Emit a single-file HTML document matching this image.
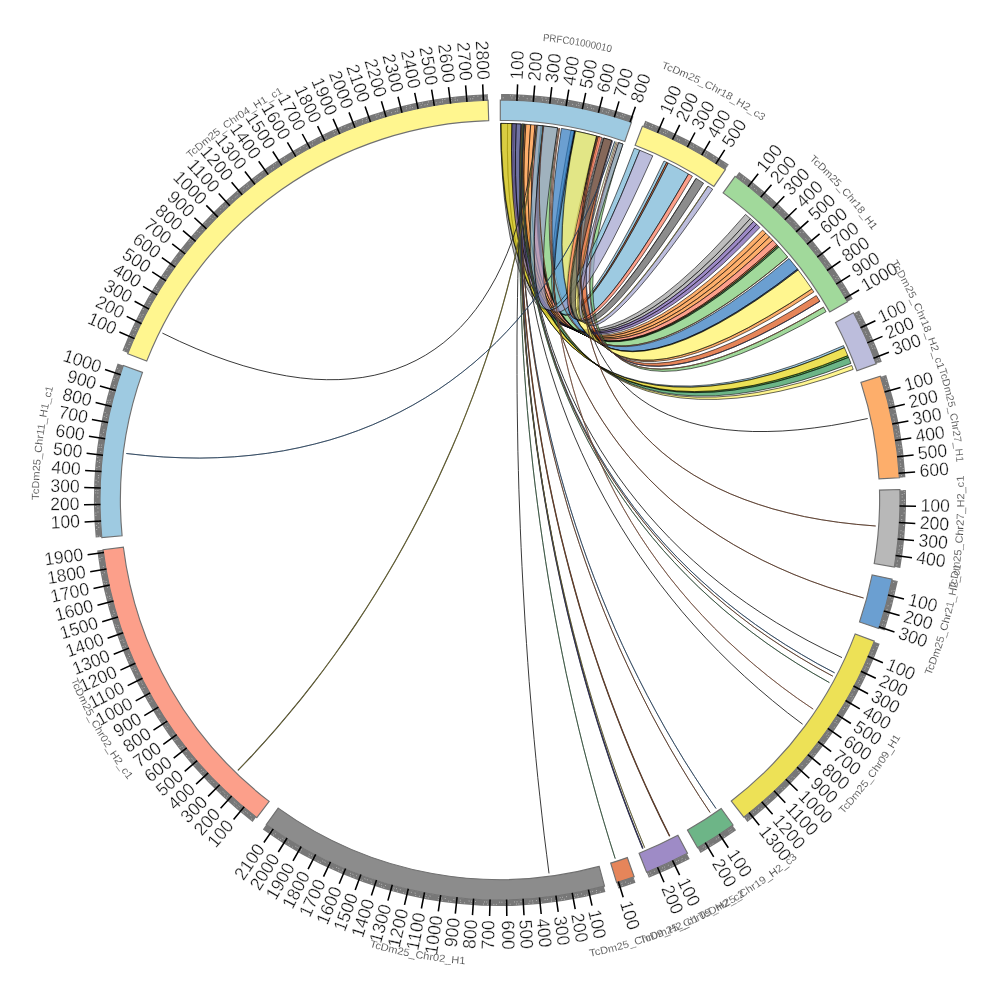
<!DOCTYPE html>
<html><head><meta charset="utf-8"><title>Circos</title><style>html,body{margin:0;padding:0;background:#fff}svg{display:block}</style></head><body>
<svg width="1000" height="1000" viewBox="0 0 1000 1000">
<rect width="1000" height="1000" fill="#fff"/>
<g stroke="#000" stroke-width="0.7" stroke-opacity="0.85" stroke-linejoin="round" fill-opacity="0.70">
<path d="M501 123.4A376.6 376.6 0 0 1 507.6 123.5L507.4 150.3 508.1 175 509.6 197.7 511.8 218.5 514.8 237.4 518.5 254.4 522.9 269.6 528 283.1 533.7 294.9 540.1 305 547.2 313.4 554.9 320.2 563.3 325.3 572.3 328.9 581.9 330.7 592.2 331 603.1 329.6 614.6 326.6 626.8 321.9 639.7 315.4 653.3 307.2 667.6 297.3 682.6 285.4 698.3 271.7 714.9 256.1 732.2 238.4 750.3 218.6A376.6 376.6 0 0 0 745.5 214.4L727.7 234.5 710.7 252.5 694.5 268.4 678.9 282.4 664.1 294.5 650 304.7 636.6 313.1 623.8 319.8 611.6 324.7 600.1 327.9 589.2 329.5 579 329.4 569.3 327.7 560.2 324.3 551.8 319.3 544 312.6 536.7 304.3 530.1 294.3 524.2 282.7 518.9 269.3 514.2 254.1 510.2 237.2 506.9 218.3 504.3 197.6 502.4 174.9 501.3 150.2Z" fill="#a1a1a1"/>
<path d="M507.6 123.5A376.6 376.6 0 0 1 512 123.6L511.5 150.4 511.9 175.1 513.1 197.9 515.1 218.7 517.8 237.6 521.3 254.6 525.6 269.9 530.5 283.5 536.1 295.3 542.4 305.5 549.4 314 557 320.8 565.3 326.1 574.2 329.7 583.8 331.7 594.1 332.1 605 330.8 616.6 327.9 628.9 323.3 641.9 317.1 655.5 309 669.9 299.2 685.1 287.6 701 274 717.7 258.5 735.2 241.1 753.5 221.5A376.6 376.6 0 0 0 750.3 218.6L732.2 238.4 714.9 256.1 698.3 271.7 682.6 285.4 667.6 297.3 653.3 307.2 639.7 315.4 626.8 321.9 614.6 326.6 603.1 329.6 592.2 331 581.9 330.7 572.3 328.9 563.3 325.3 554.9 320.2 547.2 313.4 540.1 305 533.7 294.9 528 283.1 522.9 269.6 518.5 254.4 514.8 237.4 511.8 218.5 509.6 197.7 508.1 175 507.4 150.3Z" fill="#a1a1a1"/>
<path d="M512 123.6A376.6 376.6 0 0 1 514.1 123.7L513.7 150.7 514.4 176.1 516.2 199.9 519.1 222.1 523 242.9 527.9 262.2 533.9 280.1 540.8 296.6 548.6 311.8 557.4 325.6 567 338.1 577.6 349.4 589.1 359.3 601.5 367.9 614.8 375.3 629 381.4 644.1 386.2 660.1 389.7 677 391.8 694.9 392.6 713.7 392.1 733.6 390.1 754.4 386.6 776.3 381.7 799.3 375.2 823.3 367.1 848.6 357.4A376.6 376.6 0 0 0 847.8 355.6L822.6 365.4 798.6 373.6 775.7 380.2 753.8 385.3 733 388.8 713.1 390.9 694.3 391.6 676.4 390.9 659.5 388.8 643.4 385.4 628.3 380.7 614.1 374.7 600.8 367.4 588.3 358.8 576.8 348.9 566.1 337.8 556.4 325.3 547.5 311.5 539.6 296.4 532.6 279.9 526.6 262.1 521.5 242.8 517.5 222 514.4 199.8 512.5 176 511.7 150.6Z" fill="#169205"/>
<path d="M514.1 123.7A376.6 376.6 0 0 1 521 124L520 151 520.2 176.4 521.6 200.2 524.1 222.5 527.6 243.3 532.2 262.7 537.8 280.7 544.4 297.4 552 312.6 560.5 326.6 569.9 339.3 580.3 350.7 591.6 360.9 603.9 369.7 617 377.3 631.1 383.7 646.1 388.7 662 392.5 678.9 394.9 696.7 396 715.6 395.8 735.4 394.1 756.3 391 778.3 386.5 801.4 380.4 825.6 372.7 851 363.4A376.6 376.6 0 0 0 848.6 357.4L823.3 367.1 799.3 375.2 776.3 381.7 754.4 386.6 733.6 390.1 713.7 392.1 694.9 392.6 677 391.8 660.1 389.7 644.1 386.2 629 381.4 614.8 375.3 601.5 367.9 589.1 359.3 577.6 349.4 567 338.1 557.4 325.6 548.6 311.8 540.8 296.6 533.9 280.1 527.9 262.2 523 242.9 519.1 222.1 516.2 199.9 514.4 176.1 513.7 150.7Z" fill="#2e9554"/>
<path d="M521.4 124A376.6 376.6 0 0 1 524.6 124.2L523.4 151.2 523.4 176.6 524.6 200.5 526.8 222.8 530.2 243.7 534.6 263.2 540 281.3 546.5 298 553.9 313.5 562.3 327.6 571.7 340.5 582 352 593.2 362.4 605.4 371.5 618.5 379.3 632.5 385.9 647.5 391.2 663.5 395.2 680.4 397.9 698.3 399.3 717.2 399.4 737.1 398.1 758.1 395.4 780.1 391.2 803.3 385.5 827.7 378.3 853.2 369.4A376.6 376.6 0 0 0 851.8 365.5L826.3 374.7 802.1 382.2 778.9 388.1 756.9 392.5 736 395.5 716.1 397 697.2 397.2 679.3 396 662.4 393.4 646.4 389.6 631.4 384.4 617.3 378 604.2 370.3 591.9 361.4 580.6 351.2 570.2 339.7 560.8 326.9 552.3 312.9 544.7 297.6 538.1 280.9 532.5 262.9 527.9 243.4 524.4 222.6 521.9 200.3 520.6 176.4 520.4 151Z" fill="#fff25f"/>
<path d="M521.7 124A376.6 376.6 0 0 1 525.8 124.3L524.4 151.1 523.9 175.8 524.2 198.6 525.5 219.5 527.6 238.5 530.5 255.7 534.2 271.2 538.7 284.9 543.9 297 549.9 307.5 556.6 316.3 564 323.5 572.2 329.1 581.1 333.2 590.7 335.6 601 336.5 612.1 335.7 623.9 333.3 636.4 329.3 649.7 323.6 663.8 316.2 678.7 307.1 694.4 296.1 710.9 283.3 728.3 268.6 746.6 252 765.8 233.2A376.6 376.6 0 0 0 762.6 230.1L743.7 249 725.6 265.9 708.3 280.8 692 293.8 676.4 305 661.7 314.3 647.7 321.9 634.4 327.7 621.9 331.9 610.2 334.4 599.1 335.3 588.8 334.6 579.2 332.2 570.3 328.3 562 322.8 554.5 315.6 547.7 306.9 541.6 296.5 536.3 284.5 531.6 270.8 527.8 255.4 524.7 238.2 522.4 219.2 520.9 198.3 520.3 175.6 520.5 150.8Z" fill="#fc8b2c"/>
<path d="M525.8 124.3A376.6 376.6 0 0 1 530.7 124.7L528.9 151.4 528 176.2 528.1 198.9 529.1 219.8 531 238.9 533.7 256.1 537.2 271.7 541.5 285.5 546.5 297.6 552.4 308.2 559 317.1 566.4 324.4 574.5 330.1 583.3 334.3 592.9 336.9 603.2 337.9 614.3 337.3 626.2 335.1 638.8 331.2 652.2 325.7 666.4 318.5 681.4 309.6 697.2 298.9 713.9 286.3 731.5 271.8 750.1 255.4 769.5 237A376.6 376.6 0 0 0 765.8 233.2L746.6 252 728.3 268.6 710.9 283.3 694.4 296.1 678.7 307.1 663.8 316.2 649.7 323.6 636.4 329.3 623.9 333.3 612.1 335.7 601 336.5 590.7 335.6 581.1 333.2 572.2 329.1 564 323.5 556.6 316.3 549.9 307.5 543.9 297 538.7 284.9 534.2 271.2 530.5 255.7 527.6 238.5 525.5 219.5 524.2 198.6 523.9 175.8 524.4 151.1Z" fill="#fc8b2c"/>
<path d="M530.7 124.7A376.6 376.6 0 0 1 535 125L532.9 151.8 531.8 176.5 531.6 199.3 532.4 220.2 534 239.3 536.5 256.6 539.8 272.1 543.9 286 548.9 298.2 554.6 308.8 561.1 317.8 568.4 325.2 576.5 331.1 585.3 335.3 594.9 338.1 605.2 339.2 616.3 338.7 628.2 336.7 640.8 333 654.3 327.6 668.6 320.6 683.7 311.9 699.7 301.3 716.6 289 734.3 274.7 753.1 258.5 772.8 240.3A376.6 376.6 0 0 0 769.5 237L750.1 255.4 731.5 271.8 713.9 286.3 697.2 298.9 681.4 309.6 666.4 318.5 652.2 325.7 638.8 331.2 626.2 335.1 614.3 337.3 603.2 337.9 592.9 336.9 583.3 334.3 574.5 330.1 566.4 324.4 559 317.1 552.4 308.2 546.5 297.6 541.5 285.5 537.2 271.7 533.7 256.1 531 238.9 529.1 219.8 528.1 198.9 528 176.2 528.9 151.4Z" fill="#fc8b2c"/>
<path d="M535 125A376.6 376.6 0 0 1 541 125.6L538.5 152.3 537 177.1 536.4 199.8 536.8 220.7 538.2 239.8 540.4 257.2 543.4 272.8 547.4 286.7 552.1 299 557.7 309.7 564 318.8 571.2 326.3 579.2 332.3 587.9 336.7 597.4 339.6 607.7 340.9 618.8 340.6 630.7 338.7 643.4 335.2 657 330.1 671.4 323.3 686.6 314.8 702.8 304.5 719.8 292.4 737.8 278.4 756.8 262.5 776.8 244.7A376.6 376.6 0 0 0 772.8 240.3L753.1 258.5 734.3 274.7 716.6 289 699.7 301.3 683.7 311.9 668.6 320.6 654.3 327.6 640.8 333 628.2 336.7 616.3 338.7 605.2 339.2 594.9 338.1 585.3 335.3 576.5 331.1 568.4 325.2 561.1 317.8 554.6 308.8 548.9 298.2 543.9 286 539.8 272.1 536.5 256.6 534 239.3 532.4 220.2 531.6 199.3 531.8 176.5 532.9 151.8Z" fill="#fb7658"/>
<path d="M541.3 125.7A376.6 376.6 0 0 1 542.6 125.8L540 152.5 538.4 177.2 537.7 200 538.1 220.9 539.3 240 541.4 257.3 544.4 273 548.3 286.9 553 299.2 558.5 309.9 564.8 319.1 571.9 326.6 579.8 332.6 588.6 337 598.1 339.9 608.3 341.3 619.4 341 631.3 339.2 644.1 335.7 657.6 330.7 672 323.9 687.3 315.5 703.5 305.2 720.6 293.2 738.7 279.3 757.7 263.5 777.7 245.7A376.6 376.6 0 0 0 776.8 244.7L756.8 262.5 737.8 278.4 719.8 292.4 702.8 304.5 686.6 314.8 671.4 323.3 657 330.1 643.5 335.2 630.8 338.7 618.9 340.6 607.8 340.9 597.5 339.6 588 336.7 579.2 332.3 571.3 326.4 564.2 318.8 557.8 309.7 552.3 299 547.5 286.7 543.6 272.8 540.6 257.2 538.4 239.9 537.1 220.8 536.7 199.9 537.2 177.1 538.8 152.4Z" fill="#db5113"/>
<path d="M542.3 125.8A376.6 376.6 0 0 1 543.9 126L541.2 152.7 539.5 177.4 538.8 200.1 539 221 540.2 240.1 542.3 257.5 545.2 273.1 549 287.1 553.7 299.4 559.2 310.2 565.5 319.3 572.6 326.9 580.5 332.9 589.2 337.4 598.7 340.3 609 341.7 620.1 341.5 632 339.8 644.8 336.4 658.3 331.3 672.8 324.7 688.1 316.3 704.3 306.1 721.5 294.2 739.6 280.4 758.7 264.6 778.9 246.9A376.6 376.6 0 0 0 777.7 245.7L757.7 263.5 738.7 279.3 720.6 293.2 703.5 305.2 687.3 315.4 672 323.9 657.6 330.7 644 335.7 631.3 339.2 619.4 341 608.3 341.2 598 339.9 588.5 337 579.8 332.6 571.8 326.6 564.7 319 558.4 309.9 552.8 299.2 548.1 286.9 544.2 272.9 541.2 257.3 539.1 240 537.8 220.9 537.5 200 538.1 177.2 539.7 152.5Z" fill="#00580c"/>
<path d="M543.9 126A376.6 376.6 0 0 1 557.6 127.8L553.9 154.4 551.3 179 549.7 201.7 549.2 222.6 549.7 241.8 551.1 259.2 553.5 274.9 556.8 289 561 301.5 566.1 312.4 572 321.8 578.8 329.6 586.5 335.9 595 340.7 604.4 344 614.6 345.7 625.7 345.9 637.7 344.6 650.5 341.6 664.3 337.1 678.9 330.9 694.6 323.1 711.1 313.5 728.7 302.2 747.3 289 766.9 274 787.7 257A376.6 376.6 0 0 0 778.9 246.9L758.7 264.6 739.6 280.4 721.5 294.2 704.3 306.1 688.1 316.3 672.8 324.7 658.3 331.3 644.8 336.4 632 339.8 620.1 341.5 609 341.7 598.7 340.3 589.2 337.4 580.5 332.9 572.6 326.9 565.5 319.3 559.2 310.2 553.7 299.4 549 287.1 545.2 273.1 542.3 257.5 540.2 240.1 539 221 538.8 200.1 539.5 177.4 541.2 152.7Z" fill="#79c970"/>
<path d="M571 130.2A376.6 376.6 0 0 1 574.1 130.8L569 157 564.7 180.9 561.1 202.7 558.2 222.4 556 240.1 554.5 255.7 553.7 269.5 553.4 281.4 553.8 291.4 554.9 299.6 556.5 306 558.7 310.7 561.6 313.6 565 314.8 569 314.2 573.7 311.9 578.9 307.8 584.7 301.9 591.2 294.2 598.2 284.7 606 273.3 614.3 259.9 623.4 244.6 633.1 227.3 643.6 207.8 654.8 186.2 666.7 162.3A376.6 376.6 0 0 0 664 161L652.3 185 641.2 206.7 630.9 226.2 621.3 243.6 612.4 259 604.1 272.4 596.5 283.9 589.5 293.5 583.1 301.2 577.3 307.2 572.1 311.3 567.5 313.7 563.5 314.3 560 313.1 557.2 310.2 554.9 305.6 553.2 299.2 552.1 291 551.6 280.9 551.7 269.1 552.5 255.3 553.8 239.6 555.9 221.9 558.6 202.2 562 180.4 566.1 156.4Z" fill="#74b3d4"/>
<path d="M574.1 130.8A376.6 376.6 0 0 1 575.4 131L570.2 157.2 565.8 181.2 562.1 202.9 559.2 222.6 556.9 240.3 555.4 255.9 554.5 269.7 554.2 281.6 554.6 291.6 555.6 299.8 557.2 306.3 559.5 310.9 562.3 313.9 565.7 315.1 569.8 314.5 574.4 312.2 579.7 308.1 585.5 302.3 592 294.6 599.1 285.1 606.9 273.7 615.3 260.4 624.5 245.1 634.3 227.8 644.8 208.4 656.1 186.8 668.2 163A376.6 376.6 0 0 0 666.7 162.3L654.8 186.2 643.6 207.8 633.1 227.3 623.4 244.6 614.3 259.9 606 273.3 598.2 284.7 591.2 294.2 584.7 301.9 578.9 307.8 573.7 311.9 569 314.2 565 314.8 561.6 313.6 558.7 310.7 556.5 306 554.9 299.6 553.8 291.4 553.4 281.4 553.7 269.5 554.5 255.7 556 240.1 558.2 222.4 561.1 202.7 564.7 180.9 569 157Z" fill="#db5113"/>
<path d="M561.4 128.4A376.6 376.6 0 0 1 574.8 130.9L569.8 157.3 566.1 181.7 563.5 204.3 562 225.2 561.5 244.3 562.1 261.7 563.8 277.5 566.4 291.7 570 304.4 574.5 315.5 580 325.1 586.4 333.2 593.7 339.8 602 344.9 611.1 348.5 621.2 350.7 632.3 351.3 644.2 350.5 657.1 348.1 671 344.1 685.9 338.5 701.8 331.3 718.7 322.5 736.7 311.9 755.8 299.5 776.1 285.3 797.5 269.1A376.6 376.6 0 0 0 789 258.5L768.1 275.4 748.4 290.3 729.8 303.4 712.1 314.6 695.5 324.1 679.9 331.9 665.3 338 651.5 342.4 638.7 345.3 626.8 346.6 615.8 346.4 605.6 344.6 596.3 341.3 587.9 336.5 580.3 330.1 573.6 322.3 567.8 312.9 562.9 302 558.8 289.5 555.7 275.4 553.5 259.6 552.3 242.2 552 223.1 552.8 202.2 554.6 179.6 557.5 155Z" fill="#2c76bd"/>
<path d="M574.8 130.9A376.6 376.6 0 0 1 575.7 131.1L570.7 157.4 566.9 181.9 564.2 204.5 562.7 225.3 562.2 244.5 562.8 261.9 564.4 277.7 566.9 291.9 570.5 304.6 575 315.7 580.4 325.3 586.8 333.4 594.2 340 602.4 345.2 611.6 348.8 621.7 351 632.7 351.7 644.6 350.9 657.6 348.5 671.5 344.6 686.4 339.1 702.3 331.9 719.3 323.1 737.3 312.6 756.4 300.2 776.7 286.1 798.2 270A376.6 376.6 0 0 0 797.5 269.1L776.1 285.3 755.8 299.5 736.7 311.9 718.7 322.5 701.8 331.3 685.9 338.5 671 344.1 657.1 348.1 644.2 350.5 632.3 351.3 621.2 350.7 611.1 348.5 602 344.9 593.7 339.8 586.4 333.2 580 325.1 574.5 315.5 570 304.4 566.4 291.7 563.8 277.5 562.1 261.7 561.5 244.3 562 225.2 563.5 204.3 566.1 181.7 569.8 157.3Z" fill="#00318e"/>
<path d="M575.4 131A376.6 376.6 0 0 1 596.6 136L590 161.9 584.2 185.5 579.2 207 575.2 226.5 571.9 244 569.5 259.6 567.8 273.3 566.9 285.1 566.7 295.2 567.3 303.5 568.6 310 570.5 314.8 573.2 318 576.6 319.4 580.8 319.1 585.6 317.1 591.1 313.3 597.3 307.8 604.3 300.6 612 291.6 620.5 280.7 629.8 267.9 639.8 253.2 650.7 236.6 662.4 217.8 675 197 688.5 174A376.6 376.6 0 0 0 668.2 163L656.1 186.8 644.8 208.4 634.3 227.8 624.5 245.1 615.3 260.4 606.9 273.7 599.1 285.1 592 294.6 585.5 302.3 579.7 308.1 574.4 312.2 569.8 314.5 565.7 315.1 562.3 313.9 559.5 310.9 557.2 306.3 555.6 299.8 554.6 291.6 554.2 281.6 554.5 269.7 555.4 255.9 556.9 240.3 559.2 222.6 562.1 202.9 565.8 181.2 570.2 157.2Z" fill="#74b3d4"/>
<path d="M596.6 136A376.6 376.6 0 0 1 600 136.9L593.3 162.9 587.9 187 583.7 209.4 580.8 230.1 579 249.2 578.5 266.7 579 282.6 580.7 297 583.4 309.9 587.2 321.3 592 331.3 597.9 339.9 604.8 347 612.7 352.7 621.7 357.1 631.6 360 642.6 361.5 654.7 361.5 667.8 360.1 682 357.2 697.3 352.7 713.7 346.8 731.3 339.2 750 330 770 319 791.3 306.4 813.9 291.9A376.6 376.6 0 0 0 811.8 288.9L789.4 303.6 768.3 316.4 748.4 327.6 729.7 337 712.2 344.7 695.9 350.9 680.6 355.4 666.5 358.5 653.4 360 641.3 360.1 630.3 358.7 620.3 355.9 611.3 351.7 603.4 346 596.4 338.9 590.5 330.4 585.5 320.5 581.6 309.1 578.8 296.2 577 281.8 576.3 265.9 576.7 248.5 578.3 229.4 581 208.7 585 186.2 590.2 162Z" fill="#fc8b2c"/>
<path d="M603.8 138A376.6 376.6 0 0 1 611.8 140.4L604.2 166.1 598 190.1 593.1 212.3 589.5 232.9 587.2 251.9 586 269.3 586 285.2 587.2 299.6 589.5 312.6 592.9 324.1 597.4 334.2 603 343 609.6 350.3 617.3 356.3 626.1 360.8 635.9 364 646.9 365.8 658.9 366.2 672 365.2 686.2 362.7 701.6 358.7 718.2 353.2 736 346.2 755 337.5 775.3 327.2 796.9 315.1 819.9 301.3A376.6 376.6 0 0 0 816.3 295.6L793.6 309.8 772.1 322.2 752 332.9 733.1 341.9 715.5 349.3 699 355.1 683.6 359.3 669.4 362.1 656.3 363.3 644.2 363.2 633.2 361.5 623.3 358.5 614.3 354.1 606.5 348.2 599.6 341 593.9 332.3 589.1 322.3 585.4 310.8 582.8 297.9 581.3 283.4 580.9 267.5 581.7 250.1 583.6 231 586.7 210.3 591.1 188 596.8 163.9Z" fill="#db5113"/>
<path d="M618.6 142.6A376.6 376.6 0 0 1 623 144.1L614.7 169.5 607.7 193.3 602.1 215.4 597.9 235.9 594.9 254.8 593.2 272.1 592.7 288 593.5 302.5 595.4 315.5 598.4 327.1 602.6 337.4 607.9 346.3 614.3 353.9 621.8 360.1 630.4 364.9 640.2 368.5 651.1 370.6 663.1 371.4 676.2 370.8 690.5 368.7 706.1 365.3 722.8 360.3 740.8 353.8 760.1 345.8 780.7 336.1 802.7 324.8 826.1 311.7A376.6 376.6 0 0 0 823.5 307.2L800.2 320.6 778.4 332.2 757.9 342.2 738.7 350.5 720.8 357.2 704.2 362.4 688.7 366.1 674.4 368.3 661.3 369.1 649.3 368.5 638.4 366.5 628.7 363.2 620 358.4 612.4 352.3 605.9 344.9 600.5 336.1 596.2 325.9 593 314.3 591 301.3 590.1 286.9 590.4 271 591.9 253.6 594.6 234.6 598.6 214.1 603.9 192 610.6 168.2Z" fill="#79c970"/>
<path d="M500.5 123.4A376.6 376.6 0 0 1 501.4 123.4L501.9 150.4 503.5 175.8 506.1 199.5 509.7 221.7 514.3 242.3 520 261.5 526.5 279.2 534 295.5 542.3 310.5 551.6 324.1 561.7 336.3 572.7 347.2 584.6 356.9 597.3 365.2 610.8 372.2 625.2 377.9 640.5 382.2 656.7 385.3 673.7 386.9 691.6 387.2 710.5 386.1 730.3 383.6 751.1 379.6 772.8 374 795.6 366.9 819.5 358.1 844.4 347.7A376.6 376.6 0 0 0 843.5 345.6L818.6 356.1 794.8 365 772.1 372.3 750.4 378 729.6 382.1 709.9 384.8 691 386 673.1 385.8 656.1 384.3 640 381.3 624.7 377.1 610.3 371.5 596.8 364.6 584.1 356.3 572.2 346.8 561.2 335.9 551.1 323.7 541.8 310.2 533.4 295.3 525.9 279.1 519.3 261.4 513.7 242.3 509 221.6 505.3 199.5 502.7 175.8 501 150.4Z" fill="#74b3d4"/>
<path d="M501 123.4A376.6 376.6 0 0 1 512 123.6L511.7 150.6 512.5 176 514.4 199.8 517.5 222 521.5 242.8 526.6 262.1 532.6 279.9 539.6 296.4 547.5 311.5 556.4 325.3 566.1 337.8 576.8 348.9 588.3 358.8 600.8 367.4 614.1 374.7 628.3 380.7 643.4 385.4 659.5 388.8 676.4 390.9 694.3 391.6 713.1 390.9 733 388.8 753.8 385.3 775.7 380.2 798.6 373.6 822.6 365.4 847.8 355.6A376.6 376.6 0 0 0 844.4 347.7L819.5 358.1 795.6 366.9 772.8 374 751.1 379.6 730.3 383.6 710.5 386.1 691.6 387.2 673.7 386.9 656.6 385.3 640.4 382.2 625.1 377.9 610.7 372.2 597.1 365.2 584.4 356.9 572.6 347.2 561.5 336.3 551.4 324.1 542.1 310.5 533.7 295.5 526.2 279.2 519.7 261.5 514 242.3 509.4 221.7 505.7 199.5 503.1 175.8 501.5 150.4Z" fill="#e5d40e"/>
<path d="M512 123.6A376.6 376.6 0 0 1 516.3 123.8L515.5 150.6 515.6 175.3 516.6 198 518.3 218.8 520.9 237.8 524.2 254.9 528.2 270.2 533 283.8 538.4 295.7 544.6 305.9 551.5 314.5 559 321.5 567.3 326.8 576.2 330.5 585.7 332.7 596 333.2 606.9 332 618.6 329.2 630.9 324.8 643.9 318.7 657.7 310.8 672.2 301.1 687.4 289.6 703.5 276.3 720.3 261 738 243.7 756.6 224.3A376.6 376.6 0 0 0 753.5 221.5L735.2 241.1 717.7 258.5 701 274 685.1 287.6 669.9 299.2 655.5 309 641.9 317.1 628.9 323.3 616.6 327.9 605 330.8 594.1 332.1 583.8 331.7 574.2 329.7 565.3 326.1 557 320.8 549.4 314 542.4 305.5 536.1 295.3 530.5 283.5 525.6 269.9 521.3 254.6 517.8 237.6 515.1 218.7 513.1 197.9 511.9 175.1 511.5 150.4Z" fill="#7459ae"/>
<path d="M516.3 123.8A376.6 376.6 0 0 1 521 124L519.9 150.8 519.7 175.5 520.3 198.3 521.8 219.1 524.1 238.1 527.2 255.2 531 270.6 535.6 284.2 541 296.2 547 306.5 553.8 315.2 561.2 322.2 569.4 327.6 578.3 331.5 587.8 333.7 598 334.3 609 333.3 620.6 330.7 633 326.4 646.1 320.4 660 312.7 674.6 303.2 690 291.9 706.2 278.8 723.2 263.7 741.1 246.6 759.9 227.5A376.6 376.6 0 0 0 756.6 224.3L738 243.7 720.3 261 703.5 276.3 687.4 289.6 672.2 301.1 657.7 310.8 643.9 318.7 630.9 324.8 618.6 329.2 606.9 332 596 333.2 585.7 332.7 576.2 330.5 567.3 326.8 559 321.5 551.5 314.5 544.6 305.9 538.4 295.7 533 283.8 528.2 270.2 524.2 254.9 520.9 237.8 518.3 218.8 516.6 198 515.6 175.3 515.5 150.6Z" fill="#7459ae"/>
<path d="M537.4 125.3A376.6 376.6 0 0 1 543.3 125.9L540.4 152.4 538 176.7 536.3 198.7 535.1 218.6 534.4 236.3 534.2 252.1 534.5 265.9 535.3 277.8 536.6 287.7 538.3 295.9 540.5 302.1 543.2 306.6 546.3 309.3 549.9 310.2 553.9 309.3 558.4 306.7 563.3 302.2 568.7 295.9 574.6 287.7 581 277.6 587.8 265.7 595.1 251.7 603 235.7 611.3 217.7 620.3 197.5 629.7 175 639.8 150.3A376.6 376.6 0 0 0 634.3 148.2L624.7 173.1 615.5 195.6 606.9 216 598.9 234.2 591.3 250.3 584.1 264.3 577.5 276.4 571.3 286.6 565.6 294.8 560.3 301.2 555.4 305.8 550.9 308.5 546.9 309.5 543.3 308.6 540.2 306 537.4 301.5 535.1 295.3 533.2 287.2 531.8 277.2 530.8 265.4 530.3 251.6 530.2 235.8 530.6 218 531.5 198.1 533 176.1 534.9 151.8Z" fill="#74b3d4"/>
<path d="M543.3 125.9A376.6 376.6 0 0 1 557.6 127.8L553.7 154.2 550.4 178.4 547.8 200.3 545.8 220.1 544.4 237.8 543.7 253.6 543.4 267.4 543.8 279.3 544.7 289.3 546.1 297.4 548 303.8 550.5 308.4 553.5 311.2 557 312.2 561.1 311.5 565.7 309 570.7 304.7 576.4 298.6 582.5 290.6 589.2 280.8 596.5 269.1 604.4 255.4 612.8 239.8 621.8 222 631.5 202.2 641.8 180.1 652.8 155.8A376.6 376.6 0 0 0 639.8 150.3L629.7 175 620.3 197.5 611.3 217.7 603 235.7 595.1 251.7 587.8 265.7 581 277.6 574.6 287.7 568.7 295.9 563.3 302.2 558.4 306.7 553.9 309.3 549.9 310.2 546.3 309.3 543.2 306.6 540.5 302.1 538.3 295.9 536.6 287.7 535.3 277.8 534.5 265.9 534.2 252.1 534.4 236.3 535.1 218.6 536.3 198.7 538 176.7 540.4 152.4Z" fill="#9fa1cd"/>
<path d="M575.4 131A376.6 376.6 0 0 1 596.6 136L590.2 162 585 186.2 581 208.7 578.3 229.4 576.7 248.5 576.3 265.9 577 281.8 578.8 296.2 581.6 309.1 585.5 320.5 590.5 330.4 596.4 338.9 603.4 346 611.3 351.7 620.3 355.9 630.3 358.7 641.3 360.1 653.4 360 666.5 358.5 680.6 355.4 695.9 350.9 712.2 344.7 729.7 337 748.4 327.6 768.3 316.4 789.4 303.6 811.8 288.9A376.6 376.6 0 0 0 798.2 270L776.7 286.1 756.4 300.2 737.3 312.6 719.2 323.1 702.3 331.9 686.4 339.1 671.5 344.6 657.5 348.5 644.6 350.9 632.6 351.7 621.6 351 611.5 348.8 602.3 345.2 594.1 340 586.7 333.4 580.3 325.3 574.9 315.7 570.3 304.5 566.8 291.9 564.2 277.7 562.6 261.9 562 244.4 562.5 225.3 564 204.5 566.6 181.8 570.4 157.4Z" fill="#fff25f"/>
<path d="M598.1 136.4A376.6 376.6 0 0 1 602 137.5L595 163.2 588.8 186.8 583.6 208.2 579.2 227.6 575.7 245.1 573 260.6 571.1 274.3 570 286.1 569.6 296.1 570 304.4 571.2 311 573.1 315.8 575.7 318.9 579 320.4 583.1 320.1 587.9 318.1 593.5 314.5 599.7 309.1 606.8 301.9 614.6 292.9 623.2 282.1 632.6 269.5 642.8 254.9 653.8 238.4 665.8 219.8 678.6 199.1 692.4 176.2A376.6 376.6 0 0 0 688.5 174L675 197 662.4 217.9 650.7 236.6 639.9 253.3 629.8 267.9 620.6 280.7 612.2 291.6 604.5 300.6 597.5 307.9 591.3 313.4 585.8 317.1 581.1 319.1 577 319.5 573.7 318.1 571 315 569.1 310.2 567.9 303.6 567.4 295.4 567.6 285.3 568.6 273.5 570.4 259.8 572.9 244.3 576.2 226.8 580.4 207.3 585.4 185.8 591.3 162.2Z" fill="#fb7658"/>
<path d="M603.8 138A376.6 376.6 0 0 1 611.8 140.4L604 165.9 597.3 189.3 591.5 210.6 586.6 229.9 582.6 247.3 579.6 262.8 577.4 276.4 576 288.2 575.4 298.3 575.7 306.6 576.7 313.2 578.6 318.2 581.2 321.4 584.6 323 588.8 322.9 593.7 321.2 599.5 317.7 606 312.5 613.4 305.6 621.5 297 630.5 286.5 640.4 274.2 651.2 260 662.8 243.9 675.4 225.7 689 205.5 703.6 183.2A376.6 376.6 0 0 0 696 178.4L682 201.1 668.9 221.7 656.7 240.1 645.5 256.5 635 271 625.5 283.5 616.7 294.2 608.8 303 601.6 310.1 595.2 315.4 589.5 319 584.7 320.9 580.5 321.1 577.1 319.6 574.4 316.4 572.5 311.5 571.3 304.9 570.9 296.6 571.2 286.6 572.3 274.7 574.3 261 577 245.5 580.6 228.1 585 208.7 590.4 187.2 596.6 163.7Z" fill="#5b5b5b"/>
<path d="M618.6 142.6A376.6 376.6 0 0 1 623 144.1L614.5 169.3 607 192.5 600.5 213.6 595 232.8 590.5 250 586.9 265.4 584.3 278.9 582.5 290.7 581.6 300.7 581.6 309 582.4 315.6 584.1 320.6 586.6 323.9 589.9 325.6 594 325.6 599 324 604.8 320.7 611.5 315.7 619 309 627.4 300.6 636.7 290.4 646.9 278.4 658.1 264.5 670.2 248.7 683.3 230.9 697.5 211.1 712.7 189.2A376.6 376.6 0 0 0 708.1 186.1L693.2 208.3 679.4 228.3 666.6 246.3 654.7 262.3 643.7 276.3 633.7 288.5 624.6 298.8 616.3 307.4 608.9 314.2 602.3 319.2 596.6 322.6 591.7 324.3 587.5 324.4 584.2 322.8 581.7 319.5 580 314.6 579.1 307.9 579.1 299.6 579.9 289.6 581.5 277.8 584 264.3 587.4 248.9 591.7 231.6 596.9 212.4 603.2 191.2 610.4 168Z" fill="#9fa1cd"/>
</g>
<g fill="none" stroke-linecap="butt">
<path d="M597.2 136.1 592.5 154.5 588.6 172.1 585.4 189 582.9 205.3 581 221 579.8 236.1 579.3 250.5 579.3 264.3 580 277.6 581.3 290.2 583.1 302.3 585.6 313.9 588.6 324.8 592.2 335.3 596.4 345.2 601.1 354.5 606.4 363.3 612.2 371.6 618.6 379.4 625.6 386.6 633 393.4 641.1 399.5 649.7 405.2 658.8 410.3 668.5 414.9 678.8 418.9 689.6 422.4 701.1 425.4 713.1 427.8 725.7 429.6 738.9 430.8 752.7 431.5 767.1 431.5 782.2 431 797.9 429.8 814.3 427.9 831.4 425.5 849.2 422.3 867.7 418.5" stroke="#222" stroke-width="0.9"/>
<path d="M598.2 136.4 593.6 154.8 589.6 172.7 586.4 190 583.9 206.9 582 223.3 580.8 239.2 580.3 254.6 580.4 269.6 581.1 284.1 582.5 298.2 584.4 311.9 587 325.1 590.1 338 593.8 350.4 598.1 362.4 602.9 374 608.4 385.2 614.4 396 620.9 406.3 628 416.3 635.7 425.9 643.9 435.1 652.8 443.9 662.1 452.3 672.1 460.3 682.6 467.8 693.7 475 705.4 481.7 717.6 488 730.5 493.9 744 499.3 758.2 504.3 772.9 508.9 788.3 512.9 804.4 516.6 821.2 519.7 838.6 522.3 856.8 524.4 875.7 526" stroke="#222" stroke-width="0.9"/>
<path d="M598.2 136.4 593.6 154.8 589.6 172.7 586.4 190 583.9 206.9 582 223.3 580.8 239.2 580.3 254.6 580.4 269.6 581.1 284.1 582.5 298.2 584.4 311.9 587 325.1 590.1 338 593.8 350.4 598.1 362.4 602.9 374 608.4 385.2 614.4 396 620.9 406.3 628 416.3 635.7 425.9 643.9 435.1 652.8 443.9 662.1 452.3 672.1 460.3 682.6 467.8 693.7 475 705.4 481.7 717.6 488 730.5 493.9 744 499.3 758.2 504.3 772.9 508.9 788.3 512.9 804.4 516.6 821.2 519.7 838.6 522.3 856.8 524.4 875.7 526" stroke="#a5562a" stroke-width="0.4"/>
<path d="M543.3 125.9 541.4 144.9 540.1 163.4 539.4 181.5 539.4 199.3 539.9 216.6 541 233.5 542.6 250.1 544.8 266.3 547.5 282.1 550.8 297.6 554.6 312.7 558.9 327.5 563.7 341.9 569 356 574.7 369.7 581 383.1 587.8 396.2 595 409 602.8 421.4 611 433.5 619.7 445.3 628.9 456.8 638.5 467.9 648.7 478.7 659.3 489.1 670.4 499.3 682.1 509 694.2 518.5 706.9 527.6 720 536.3 733.7 544.7 748 552.7 762.8 560.4 778.1 567.6 794 574.5 810.5 581 827.6 587.1 845.3 592.7 863.6 598" stroke="#222" stroke-width="0.9"/>
<path d="M543.3 125.9 541.4 144.9 540.1 163.4 539.4 181.5 539.4 199.3 539.9 216.6 541 233.5 542.6 250.1 544.8 266.3 547.5 282.1 550.8 297.6 554.6 312.7 558.9 327.5 563.7 341.9 569 356 574.7 369.7 581 383.1 587.8 396.2 595 409 602.8 421.4 611 433.5 619.7 445.3 628.9 456.8 638.5 467.9 648.7 478.7 659.3 489.1 670.4 499.3 682.1 509 694.2 518.5 706.9 527.6 720 536.3 733.7 544.7 748 552.7 762.8 560.4 778.1 567.6 794 574.5 810.5 581 827.6 587.1 845.3 592.7 863.6 598" stroke="#a5562a" stroke-width="0.4"/>
<path d="M524 124.2 523 143.3 522.7 162 522.8 180.5 523.5 198.6 524.8 216.4 526.5 233.9 528.7 251.1 531.5 268 534.7 284.6 538.4 301 542.6 317 547.2 332.8 552.3 348.3 557.8 363.6 563.8 378.5 570.2 393.3 577 407.7 584.3 421.9 592.1 435.8 600.2 449.5 608.8 462.9 617.8 476.1 627.3 489 637.2 501.6 647.5 514 658.3 526.1 669.5 538 681.2 549.6 693.4 560.8 706 571.9 719.1 582.6 732.6 593.1 746.7 603.2 761.3 613.1 776.3 622.6 791.9 631.8 808.1 640.8 824.8 649.4 842 657.6" stroke="#222" stroke-width="0.9"/>
<path d="M523.6 124.1 522.7 143.3 522.3 162.1 522.5 180.6 523.2 198.8 524.4 216.7 526.1 234.3 528.3 251.6 530.9 268.7 534.1 285.5 537.7 302.1 541.7 318.3 546.3 334.4 551.2 350.1 556.6 365.7 562.5 380.9 568.7 396 575.4 410.8 582.6 425.3 590.1 439.6 598.1 453.7 606.5 467.5 615.3 481.1 624.6 494.5 634.2 507.6 644.3 520.4 654.9 533 665.9 545.4 677.3 557.5 689.2 569.4 701.5 580.9 714.3 592.3 727.6 603.3 741.4 614.1 755.6 624.6 770.4 634.9 785.6 644.8 801.4 654.4 817.7 663.8 834.6 672.8" stroke="#222" stroke-width="0.9"/>
<path d="M523.6 124.1 522.7 143.3 522.3 162.1 522.5 180.6 523.2 198.8 524.4 216.7 526.1 234.3 528.3 251.6 530.9 268.7 534.1 285.5 537.7 302.1 541.7 318.3 546.3 334.4 551.2 350.1 556.6 365.7 562.5 380.9 568.7 396 575.4 410.8 582.6 425.3 590.1 439.6 598.1 453.7 606.5 467.5 615.3 481.1 624.6 494.5 634.2 507.6 644.3 520.4 654.9 533 665.9 545.4 677.3 557.5 689.2 569.4 701.5 580.9 714.3 592.3 727.6 603.3 741.4 614.1 755.6 624.6 770.4 634.9 785.6 644.8 801.4 654.4 817.7 663.8 834.6 672.8" stroke="#2f6fb0" stroke-width="0.4"/>
<path d="M523.3 124.1 522.4 143.2 522 162.1 522.2 180.6 522.9 198.8 524.1 216.7 525.8 234.4 528 251.8 530.6 268.9 533.8 285.7 537.4 302.3 541.4 318.6 545.9 334.7 550.9 350.6 556.2 366.1 562.1 381.5 568.3 396.6 575 411.5 582.1 426.1 589.6 440.5 597.5 454.6 605.9 468.6 614.6 482.2 623.9 495.7 633.5 508.9 643.5 521.9 654 534.6 665 547.1 676.3 559.3 688.2 571.3 700.4 583 713.2 594.5 726.4 605.7 740.1 616.6 754.2 627.3 768.9 637.6 784.1 647.7 799.8 657.5 816 667 832.8 676.2" stroke="#222" stroke-width="0.9"/>
<path d="M523.3 124.1 522.4 143.2 522 162.1 522.2 180.6 522.9 198.8 524.1 216.7 525.8 234.4 528 251.8 530.6 268.9 533.8 285.7 537.4 302.3 541.4 318.6 545.9 334.7 550.9 350.6 556.2 366.1 562.1 381.5 568.3 396.6 575 411.5 582.1 426.1 589.6 440.5 597.5 454.6 605.9 468.6 614.6 482.2 623.9 495.7 633.5 508.9 643.5 521.9 654 534.6 665 547.1 676.3 559.3 688.2 571.3 700.4 583 713.2 594.5 726.4 605.7 740.1 616.6 754.2 627.3 768.9 637.6 784.1 647.7 799.8 657.5 816 667 832.8 676.2" stroke="#a5562a" stroke-width="0.4"/>
<path d="M523 124.1 522.1 143.2 521.7 162.1 521.9 180.6 522.6 198.8 523.8 216.8 525.5 234.5 527.6 252 530.3 269.2 533.4 286.1 536.9 302.8 540.9 319.2 545.4 335.4 550.3 351.3 555.6 367 561.4 382.5 567.6 397.7 574.2 412.7 581.2 427.5 588.6 442.1 596.5 456.4 604.8 470.5 613.4 484.3 622.6 498 632.1 511.4 642 524.5 652.4 537.5 663.2 550.2 674.5 562.6 686.2 574.8 698.3 586.8 711 598.5 724 610 737.6 621.2 751.6 632.1 766.1 642.8 781.1 653.2 796.7 663.3 812.8 673.1 829.4 682.6" stroke="#222" stroke-width="0.9"/>
<path d="M523 124.1 522.1 143.2 521.7 162.1 521.9 180.6 522.6 198.8 523.8 216.8 525.5 234.5 527.6 252 530.3 269.2 533.4 286.1 536.9 302.8 540.9 319.2 545.4 335.4 550.3 351.3 555.6 367 561.4 382.5 567.6 397.7 574.2 412.7 581.2 427.5 588.6 442.1 596.5 456.4 604.8 470.5 613.4 484.3 622.6 498 632.1 511.4 642 524.5 652.4 537.5 663.2 550.2 674.5 562.6 686.2 574.8 698.3 586.8 711 598.5 724 610 737.6 621.2 751.6 632.1 766.1 642.8 781.1 653.2 796.7 663.3 812.8 673.1 829.4 682.6" stroke="#3f8a55" stroke-width="0.4"/>
<path d="M521.4 124 520.5 143.2 520.2 162.1 520.3 180.8 520.9 199.3 522 217.5 523.5 235.6 525.5 253.4 527.9 271.1 530.8 288.5 534.1 305.7 537.7 322.8 541.8 339.6 546.3 356.3 551.2 372.8 556.5 389.1 562.2 405.2 568.2 421.1 574.7 436.9 581.5 452.4 588.7 467.8 596.3 483 604.3 498.1 612.6 512.9 621.4 527.6 630.5 542.1 640.1 556.4 650 570.5 660.3 584.4 671.1 598.1 682.2 611.7 693.8 625 705.8 638.1 718.3 651.1 731.2 663.8 744.5 676.3 758.3 688.6 772.6 700.7 787.3 712.6 802.6 724.2" stroke="#222" stroke-width="0.9"/>
<path d="M522 124 521.1 143.3 520.5 162.4 520.3 181.4 520.4 200.3 520.9 219.2 521.7 237.9 522.8 256.5 524.3 275.1 526 293.5 528.1 311.9 530.5 330.2 533.2 348.4 536.1 366.5 539.4 384.6 543 402.5 546.8 420.4 550.9 438.2 555.3 455.9 560 473.5 565 491.1 570.3 508.5 575.8 525.9 581.6 543.2 587.7 560.5 594.1 577.6 600.8 594.7 607.8 611.7 615 628.6 622.6 645.4 630.5 662.1 638.7 678.7 647.2 695.3 656 711.7 665.1 728.1 674.6 744.4 684.4 760.6 694.6 776.6 705.1 792.6 716 808.5" stroke="#222" stroke-width="0.9"/>
<path d="M522 124 521.1 143.3 520.5 162.4 520.3 181.4 520.4 200.3 520.9 219.2 521.7 237.9 522.8 256.5 524.3 275.1 526 293.5 528.1 311.9 530.5 330.2 533.2 348.4 536.1 366.5 539.4 384.6 543 402.5 546.8 420.4 550.9 438.2 555.3 455.9 560 473.5 565 491.1 570.3 508.5 575.8 525.9 581.6 543.2 587.7 560.5 594.1 577.6 600.8 594.7 607.8 611.7 615 628.6 622.6 645.4 630.5 662.1 638.7 678.7 647.2 695.3 656 711.7 665.1 728.1 674.6 744.4 684.4 760.6 694.6 776.6 705.1 792.6 716 808.5" stroke="#2f6fb0" stroke-width="0.4"/>
<path d="M522.3 124.1 521.4 143.3 520.8 162.4 520.5 181.5 520.6 200.4 521 219.3 521.8 238 522.8 256.7 524.2 275.3 525.9 293.8 527.9 312.2 530.1 330.6 532.7 348.8 535.6 367 538.7 385.1 542.1 403.2 545.9 421.1 549.8 439 554.1 456.8 558.6 474.5 563.5 492.2 568.5 509.8 573.9 527.3 579.6 544.7 585.5 562 591.7 579.3 598.2 596.5 604.9 613.6 612 630.7 619.3 647.6 627 664.5 634.9 681.3 643.2 698 651.7 714.7 660.6 731.2 669.8 747.7 679.4 764 689.3 780.3 699.5 796.5 710.1 812.5" stroke="#222" stroke-width="0.9"/>
<path d="M522.3 124.1 521.4 143.3 520.8 162.4 520.5 181.5 520.6 200.4 521 219.3 521.8 238 522.8 256.7 524.2 275.3 525.9 293.8 527.9 312.2 530.1 330.6 532.7 348.8 535.6 367 538.7 385.1 542.1 403.2 545.9 421.1 549.8 439 554.1 456.8 558.6 474.5 563.5 492.2 568.5 509.8 573.9 527.3 579.6 544.7 585.5 562 591.7 579.3 598.2 596.5 604.9 613.6 612 630.7 619.3 647.6 627 664.5 634.9 681.3 643.2 698 651.7 714.7 660.6 731.2 669.8 747.7 679.4 764 689.3 780.3 699.5 796.5 710.1 812.5" stroke="#a5562a" stroke-width="0.4"/>
<path d="M522.7 124.1 521.7 143.3 520.9 162.5 520.5 181.6 520.4 200.7 520.5 219.7 520.9 238.7 521.6 257.6 522.5 276.4 523.7 295.2 525.1 314 526.8 332.7 528.7 351.3 530.8 369.9 533.2 388.4 535.8 406.9 538.7 425.4 541.8 443.8 545.1 462.1 548.6 480.4 552.4 498.7 556.4 516.9 560.6 535.1 565.1 553.2 569.8 571.3 574.7 589.3 579.8 607.3 585.2 625.2 590.8 643.1 596.7 660.9 602.8 678.7 609.2 696.4 615.8 714.1 622.7 731.7 629.8 749.2 637.2 766.8 644.9 784.2 652.9 801.6 661.1 818.9 669.7 836.2" stroke="#222" stroke-width="1.4"/>
<path d="M522.7 124.1 521.7 143.3 520.9 162.5 520.5 181.6 520.4 200.7 520.5 219.7 520.9 238.7 521.6 257.6 522.5 276.4 523.7 295.2 525.1 314 526.8 332.7 528.7 351.3 530.8 369.9 533.2 388.4 535.8 406.9 538.7 425.4 541.8 443.8 545.1 462.1 548.6 480.4 552.4 498.7 556.4 516.9 560.6 535.1 565.1 553.2 569.8 571.3 574.7 589.3 579.8 607.3 585.2 625.2 590.8 643.1 596.7 660.9 602.8 678.7 609.2 696.4 615.8 714.1 622.7 731.7 629.8 749.2 637.2 766.8 644.9 784.2 652.9 801.6 661.1 818.9 669.7 836.2" stroke="#a5562a" stroke-width="0.6"/>
<path d="M523.8 124.2 522.7 143.4 521.9 162.6 521.3 181.8 520.9 200.9 520.8 220 521 239.1 521.3 258.1 521.9 277 522.7 296 523.7 314.9 525 333.8 526.4 352.6 528.1 371.4 529.9 390.2 532 408.9 534.3 427.6 536.7 446.3 539.4 464.9 542.2 483.5 545.3 502.1 548.5 520.6 552 539.1 555.6 557.6 559.5 576.1 563.5 594.5 567.7 612.9 572.2 631.2 576.9 649.5 581.7 667.8 586.8 686 592.1 704.2 597.6 722.4 603.4 740.5 609.3 758.6 615.5 776.7 622 794.7 628.7 812.7 635.6 830.6 642.8 848.5" stroke="#222" stroke-width="1.5"/>
<path d="M523.8 124.2 522.7 143.4 521.9 162.6 521.3 181.8 520.9 200.9 520.8 220 521 239.1 521.3 258.1 521.9 277 522.7 296 523.7 314.9 525 333.8 526.4 352.6 528.1 371.4 529.9 390.2 532 408.9 534.3 427.6 536.7 446.3 539.4 464.9 542.2 483.5 545.3 502.1 548.5 520.6 552 539.1 555.6 557.6 559.5 576.1 563.5 594.5 567.7 612.9 572.2 631.2 576.9 649.5 581.7 667.8 586.8 686 592.1 704.2 597.6 722.4 603.4 740.5 609.3 758.6 615.5 776.7 622 794.7 628.7 812.7 635.6 830.6 642.8 848.5" stroke="#3a3a7a" stroke-width="0.7"/>
<path d="M616.1 141.7 610.4 159.6 605.2 176.4 600.5 192.2 596.2 207 592.4 220.9 589.1 233.8 586.2 245.8 583.8 256.8 581.8 267 580.2 276.4 579 284.8 578.2 292.5 577.9 299.2 577.9 305.2 578.3 310.3 579.1 314.7 580.3 318.2 581.9 320.9 583.9 322.9 586.3 324 589 324.3 592.1 323.9 595.6 322.6 599.5 320.5 603.8 317.7 608.5 314 613.6 309.5 619 304.1 624.9 297.9 631.2 290.9 637.9 282.9 645.1 274.1 652.7 264.4 660.7 253.8 669.2 242.2 678.1 229.6 687.5 216.1 697.5 201.5 707.9 186" stroke="#222" stroke-width="0.7"/>
<path d="M616.1 141.7 610.4 159.6 605.2 176.4 600.5 192.2 596.2 207 592.4 220.9 589.1 233.8 586.2 245.8 583.8 256.8 581.8 267 580.2 276.4 579 284.8 578.2 292.5 577.9 299.2 577.9 305.2 578.3 310.3 579.1 314.7 580.3 318.2 581.9 320.9 583.9 322.9 586.3 324 589 324.3 592.1 323.9 595.6 322.6 599.5 320.5 603.8 317.7 608.5 314 613.6 309.5 619 304.1 624.9 297.9 631.2 290.9 637.9 282.9 645.1 274.1 652.7 264.4 660.7 253.8 669.2 242.2 678.1 229.6 687.5 216.1 697.5 201.5 707.9 186" stroke="#cfc23a" stroke-width="0.3"/>
<path d="M602.9 137.7 597.9 155.8 593.3 172.8 589.2 188.7 585.5 203.7 582.2 217.7 579.3 230.7 576.9 242.8 574.9 253.9 573.2 264.2 572 273.6 571.1 282.1 570.6 289.7 570.5 296.5 570.7 302.5 571.3 307.6 572.3 311.9 573.6 315.4 575.3 318 577.3 319.9 579.7 320.9 582.4 321.1 585.5 320.6 589 319.2 592.8 317 597 313.9 601.5 310.1 606.4 305.4 611.7 299.8 617.3 293.4 623.3 286.1 629.7 277.9 636.6 268.9 643.8 258.9 651.4 247.9 659.4 236 667.9 223.2 676.8 209.3 686.2 194.4 696 178.4" stroke="#222" stroke-width="0.7"/>
<path d="M558.8 128 556 146.6 553.8 164.3 552.1 181 551 196.8 550.3 211.8 550.1 225.8 550.3 239.1 551.1 251.5 552.3 263.1 553.9 273.9 556 283.9 558.6 293.1 561.5 301.6 564.9 309.3 568.7 316.3 572.9 322.5 577.6 328 582.6 332.8 588.1 336.8 594 340.1 600.2 342.7 606.9 344.6 614 345.7 621.6 346.1 629.5 345.7 637.9 344.6 646.6 342.8 655.9 340.1 665.5 336.8 675.6 332.6 686.1 327.6 697.1 321.8 708.6 315.2 720.5 307.7 733 299.4 745.9 290.2 759.3 280.1 773.3 269 787.8 257.1" stroke="#222" stroke-width="0.7"/>
<path d="M558.8 128 556 146.6 553.8 164.3 552.1 181 551 196.8 550.3 211.8 550.1 225.8 550.3 239.1 551.1 251.5 552.3 263.1 553.9 273.9 556 283.9 558.6 293.1 561.5 301.6 564.9 309.3 568.7 316.3 572.9 322.5 577.6 328 582.6 332.8 588.1 336.8 594 340.1 600.2 342.7 606.9 344.6 614 345.7 621.6 346.1 629.5 345.7 637.9 344.6 646.6 342.8 655.9 340.1 665.5 336.8 675.6 332.6 686.1 327.6 697.1 321.8 708.6 315.2 720.5 307.7 733 299.4 745.9 290.2 759.3 280.1 773.3 269 787.8 257.1" stroke="#a5562a" stroke-width="0.3"/>
<path d="M522.7 124.1 521.6 143.3 520.9 162.6 520.3 181.7 520.1 200.8 520 219.9 520.2 239 520.6 258 521.3 277 522.2 295.9 523.3 314.8 524.6 333.7 526.1 352.5 527.8 371.3 529.7 390 531.9 408.8 534.2 427.4 536.7 446.1 539.5 464.7 542.4 483.3 545.5 501.9 548.9 520.4 552.4 538.9 556.1 557.3 560 575.7 564.2 594.1 568.5 612.5 573 630.8 577.8 649.1 582.7 667.3 587.9 685.5 593.3 703.7 598.9 721.8 604.7 739.9 610.8 758 617.1 776 623.6 794 630.4 811.9 637.4 829.8 644.7 847.7" stroke="#222" stroke-width="0.9"/>
<path d="M522.7 124.1 521.6 143.3 520.9 162.6 520.3 181.7 520.1 200.8 520 219.9 520.2 239 520.6 258 521.3 277 522.2 295.9 523.3 314.8 524.6 333.7 526.1 352.5 527.8 371.3 529.7 390 531.9 408.8 534.2 427.4 536.7 446.1 539.5 464.7 542.4 483.3 545.5 501.9 548.9 520.4 552.4 538.9 556.1 557.3 560 575.7 564.2 594.1 568.5 612.5 573 630.8 577.8 649.1 582.7 667.3 587.9 685.5 593.3 703.7 598.9 721.8 604.7 739.9 610.8 758 617.1 776 623.6 794 630.4 811.9 637.4 829.8 644.7 847.7" stroke="#cfc23a" stroke-width="0.3"/>
<path d="M523.3 124.1 522.2 143.4 521.4 162.6 520.7 181.8 520.2 201 520 220.2 519.9 239.3 520 258.4 520.3 277.5 520.8 296.6 521.5 315.6 522.3 334.6 523.3 353.6 524.5 372.6 525.9 391.6 527.4 410.5 529.1 429.4 531 448.3 533 467.2 535.2 486 537.6 504.9 540.1 523.7 542.8 542.5 545.6 561.2 548.6 580 551.8 598.7 555.2 617.4 558.7 636.1 562.4 654.8 566.2 673.4 570.3 692 574.5 710.6 578.9 729.2 583.5 747.8 588.3 766.3 593.3 784.8 598.4 803.3 603.8 821.7 609.4 840.2 615.2 858.6" stroke="#222" stroke-width="0.9"/>
<path d="M523.3 124.1 522.2 143.4 521.4 162.6 520.7 181.8 520.2 201 520 220.2 519.9 239.3 520 258.4 520.3 277.5 520.8 296.6 521.5 315.6 522.3 334.6 523.3 353.6 524.5 372.6 525.9 391.6 527.4 410.5 529.1 429.4 531 448.3 533 467.2 535.2 486 537.6 504.9 540.1 523.7 542.8 542.5 545.6 561.2 548.6 580 551.8 598.7 555.2 617.4 558.7 636.1 562.4 654.8 566.2 673.4 570.3 692 574.5 710.6 578.9 729.2 583.5 747.8 588.3 766.3 593.3 784.8 598.4 803.3 603.8 821.7 609.4 840.2 615.2 858.6" stroke="#3f8a55" stroke-width="0.4"/>
<path d="M524.3 124.2 523.1 143.5 522 162.7 521.1 182 520.2 201.2 519.5 220.5 518.8 239.8 518.3 259 517.8 278.3 517.5 297.5 517.2 316.7 517 336 517 355.2 517 374.4 517.1 393.7 517.3 412.9 517.6 432.1 517.9 451.3 518.4 470.5 518.9 489.8 519.6 509 520.3 528.2 521.1 547.4 522 566.6 523 585.8 524.1 605 525.2 624.2 526.5 643.4 527.8 662.5 529.2 681.7 530.8 700.9 532.4 720.1 534.1 739.3 535.9 758.4 537.8 777.6 539.9 796.8 542 815.9 544.2 835.1 546.6 854.2 549 873.4" stroke="#222" stroke-width="0.9"/>
<path d="M536.7 125.2 534.7 144.3 532.3 163.3 529.5 182.1 526.5 200.8 523.1 219.3 519.3 237.7 515.3 255.9 511 274 506.4 292 501.5 309.8 496.2 327.5 490.8 345 485 362.4 478.9 379.7 472.6 396.9 466 413.9 459.2 430.9 452 447.7 444.6 464.3 437 480.9 429.1 497.3 420.9 513.6 412.4 529.8 403.7 545.8 394.7 561.7 385.4 577.5 375.8 593.2 366 608.7 355.9 624.1 345.5 639.4 334.8 654.5 323.8 669.5 312.5 684.4 300.9 699.1 288.9 713.7 276.7 728.1 264.1 742.4 251.2 756.5 237.9 770.4" stroke="#222" stroke-width="1.1"/>
<path d="M536.7 125.2 534.7 144.3 532.3 163.3 529.5 182.1 526.5 200.8 523.1 219.3 519.3 237.7 515.3 255.9 511 274 506.4 292 501.5 309.8 496.2 327.5 490.8 345 485 362.4 478.9 379.7 472.6 396.9 466 413.9 459.2 430.9 452 447.7 444.6 464.3 437 480.9 429.1 497.3 420.9 513.6 412.4 529.8 403.7 545.8 394.7 561.7 385.4 577.5 375.8 593.2 366 608.7 355.9 624.1 345.5 639.4 334.8 654.5 323.8 669.5 312.5 684.4 300.9 699.1 288.9 713.7 276.7 728.1 264.1 742.4 251.2 756.5 237.9 770.4" stroke="#cfc23a" stroke-width="0.4"/>
<path d="M614.8 141.3 608.7 159.4 602.2 176.9 595.4 193.7 588.1 210 580.5 225.6 572.5 240.7 564.1 255.3 555.4 269.3 546.4 282.7 537 295.7 527.3 308.1 517.3 320 506.9 331.4 496.3 342.3 485.3 352.7 474 362.7 462.4 372.1 450.5 381.1 438.3 389.6 425.7 397.6 412.9 405.1 399.8 412.1 386.3 418.7 372.6 424.8 358.5 430.4 344.1 435.5 329.4 440.1 314.4 444.1 299 447.7 283.4 450.8 267.3 453.3 251 455.3 234.3 456.8 217.2 457.7 199.8 458.1 182 457.8 163.8 457 145.2 455.5 126.3 453.5" stroke="#222" stroke-width="0.9"/>
<path d="M614.8 141.3 608.7 159.4 602.2 176.9 595.4 193.7 588.1 210 580.5 225.6 572.5 240.7 564.1 255.3 555.4 269.3 546.4 282.7 537 295.7 527.3 308.1 517.3 320 506.9 331.4 496.3 342.3 485.3 352.7 474 362.7 462.4 372.1 450.5 381.1 438.3 389.6 425.7 397.6 412.9 405.1 399.8 412.1 386.3 418.7 372.6 424.8 358.5 430.4 344.1 435.5 329.4 440.1 314.4 444.1 299 447.7 283.4 450.8 267.3 453.3 251 455.3 234.3 456.8 217.2 457.7 199.8 458.1 182 457.8 163.8 457 145.2 455.5 126.3 453.5" stroke="#2f6fb0" stroke-width="0.4"/>
<path d="M536.4 125.2 534.3 144 531.8 161.9 528.7 179.1 525.3 195.4 521.4 211 517.1 225.8 512.3 239.9 507.2 253.3 501.7 265.9 495.8 277.8 489.4 289.1 482.8 299.6 475.7 309.5 468.3 318.7 460.5 327.3 452.3 335.2 443.8 342.5 434.9 349.1 425.7 355.1 416.1 360.4 406.1 365.1 395.8 369.1 385.2 372.5 374.2 375.3 362.8 377.4 351 378.8 338.9 379.6 326.4 379.7 313.5 379.2 300.3 377.9 286.6 375.9 272.6 373.2 258.1 369.8 243.2 365.7 228 360.8 212.2 355.1 196.1 348.6 179.5 341.3 162.4 333.1" stroke="#222" stroke-width="0.9"/>
<path d="M559.6 128.1 556.8 147.1 554.6 165.8 553 184.2 551.9 202.4 551.3 220.4 551.3 238.2 551.8 255.7 552.8 273 554.3 290.1 556.2 307 558.7 323.6 561.6 340.1 565 356.4 568.8 372.4 573.1 388.3 577.8 404 583 419.4 588.6 434.7 594.7 449.8 601.2 464.7 608.1 479.4 615.5 493.9 623.3 508.2 631.6 522.4 640.3 536.3 649.5 550 659.1 563.5 669.2 576.9 679.8 590 690.8 602.9 702.4 615.6 714.4 628.1 726.9 640.4 740 652.4 753.5 664.2 767.6 675.8 782.2 687.2 797.4 698.3 813.2 709.1" stroke="#222" stroke-width="0.9"/>
<path d="M559.6 128.1 556.8 147.1 554.6 165.8 553 184.2 551.9 202.4 551.3 220.4 551.3 238.2 551.8 255.7 552.8 273 554.3 290.1 556.2 307 558.7 323.6 561.6 340.1 565 356.4 568.8 372.4 573.1 388.3 577.8 404 583 419.4 588.6 434.7 594.7 449.8 601.2 464.7 608.1 479.4 615.5 493.9 623.3 508.2 631.6 522.4 640.3 536.3 649.5 550 659.1 563.5 669.2 576.9 679.8 590 690.8 602.9 702.4 615.6 714.4 628.1 726.9 640.4 740 652.4 753.5 664.2 767.6 675.8 782.2 687.2 797.4 698.3 813.2 709.1" stroke="#e6855a" stroke-width="0.4"/>
<path d="M612.6 140.6 607.2 158.6 602.4 175.8 598.3 192.1 594.8 207.5 591.9 222.2 589.7 236.1 588 249.2 586.9 261.6 586.4 273.3 586.4 284.2 587 294.4 588.2 303.9 589.9 312.7 592.1 320.8 594.8 328.3 598.1 335 601.9 341.1 606.1 346.6 611 351.4 616.3 355.5 622.1 359 628.4 361.7 635.3 363.9 642.7 365.3 650.6 366.1 659 366.3 667.9 365.7 677.4 364.4 687.4 362.5 698 359.8 709.2 356.4 720.9 352.2 733.2 347.4 746.1 341.7 759.6 335.3 773.7 328 788.5 320 803.9 311.1 819.9 301.3" stroke="#222" stroke-width="0.7"/>
<path d="M612.6 140.6 607.2 158.6 602.4 175.8 598.3 192.1 594.8 207.5 591.9 222.2 589.7 236.1 588 249.2 586.9 261.6 586.4 273.3 586.4 284.2 587 294.4 588.2 303.9 589.9 312.7 592.1 320.8 594.8 328.3 598.1 335 601.9 341.1 606.1 346.6 611 351.4 616.3 355.5 622.1 359 628.4 361.7 635.3 363.9 642.7 365.3 650.6 366.1 659 366.3 667.9 365.7 677.4 364.4 687.4 362.5 698 359.8 709.2 356.4 720.9 352.2 733.2 347.4 746.1 341.7 759.6 335.3 773.7 328 788.5 320 803.9 311.1 819.9 301.3" stroke="#3a3a7a" stroke-width="0.3"/>
<path d="M617.3 142.1 611.6 160.1 606.6 177.1 602.3 193.4 598.6 208.8 595.6 223.5 593.1 237.3 591.3 250.5 590.1 262.9 589.4 274.5 589.3 285.4 589.8 295.7 590.9 305.2 592.4 314.1 594.6 322.3 597.2 329.8 600.4 336.6 604.1 342.8 608.4 348.4 613.1 353.2 618.4 357.5 624.2 361.1 630.6 364 637.4 366.3 644.8 367.9 652.7 368.8 661.2 369.1 670.1 368.7 679.7 367.6 689.8 365.8 700.4 363.4 711.7 360.2 723.5 356.3 735.9 351.6 748.9 346.2 762.5 340 776.8 333 791.7 325.2 807.2 316.6 823.5 307.2" stroke="#222" stroke-width="0.7"/>
<path d="M617.3 142.1 611.6 160.1 606.6 177.1 602.3 193.4 598.6 208.8 595.6 223.5 593.1 237.3 591.3 250.5 590.1 262.9 589.4 274.5 589.3 285.4 589.8 295.7 590.9 305.2 592.4 314.1 594.6 322.3 597.2 329.8 600.4 336.6 604.1 342.8 608.4 348.4 613.1 353.2 618.4 357.5 624.2 361.1 630.6 364 637.4 366.3 644.8 367.9 652.7 368.8 661.2 369.1 670.1 368.7 679.7 367.6 689.8 365.8 700.4 363.4 711.7 360.2 723.5 356.3 735.9 351.6 748.9 346.2 762.5 340 776.8 333 791.7 325.2 807.2 316.6 823.5 307.2" stroke="#e6855a" stroke-width="0.3"/>
</g>
<g stroke="#707070" stroke-width="1.15">
<path d="M500.3 100A400 400 0 0 1 631.5 122.2L624.8 141.5A379.6 379.6 0 0 0 500.3 120.4Z" fill="#9ecae1"/>
<path d="M642.4 126.2A400 400 0 0 1 725.4 169.6L713.9 186.4A379.6 379.6 0 0 0 635.1 145.3Z" fill="#fff68f"/>
<path d="M735.1 176.4A400 400 0 0 1 847.5 301.8L829.7 311.9A379.6 379.6 0 0 0 723.1 192.9Z" fill="#a1d99b"/>
<path d="M853.5 312.8A400 400 0 0 1 876.1 363.8L856.9 370.8A379.6 379.6 0 0 0 835.5 322.4Z" fill="#bcbddc"/>
<path d="M880.3 376.1A400 400 0 0 1 899.4 477.7L879 478.8A379.6 379.6 0 0 0 860.9 382.4Z" fill="#fdae6b"/>
<path d="M899.9 489.5A400 400 0 0 1 894.3 567.1L874.2 563.6A379.6 379.6 0 0 0 879.5 490.1Z" fill="#b8b8b8"/>
<path d="M892.1 579.1A400 400 0 0 1 878.8 628.6L859.5 622A379.6 379.6 0 0 0 872.1 575Z" fill="#6b9fd1"/>
<path d="M874.3 641.1A400 400 0 0 1 743.8 817.1L731.3 801A379.6 379.6 0 0 0 855.2 633.9Z" fill="#ede156"/>
<path d="M733.1 825A400 400 0 0 1 697.6 847.8L687.5 830.1A379.6 379.6 0 0 0 721.2 808.5Z" fill="#6db587"/>
<path d="M687.5 853.3A400 400 0 0 1 646.6 872.2L639.1 853.2A379.6 379.6 0 0 0 677.9 835.3Z" fill="#9e8bc6"/>
<path d="M634.2 876.8A400 400 0 0 1 616.6 882.6L610.7 863.1A379.6 379.6 0 0 0 627.3 857.6Z" fill="#e6855a"/>
<path d="M604.5 886.1A400 400 0 0 1 266.3 824.6L278.2 808.1A379.6 379.6 0 0 0 599.2 866.4Z" fill="#8c8c8c"/>
<path d="M256.8 817.6A400 400 0 0 1 103.1 549.8L123.4 547.2A379.6 379.6 0 0 0 269.2 801.4Z" fill="#fc9f8a"/>
<path d="M101.8 537.6A400 400 0 0 1 123.3 365.5L142.5 372.4A379.6 379.6 0 0 0 122.1 535.7Z" fill="#9ecae1"/>
<path d="M127.7 353.7A400 400 0 0 1 488.1 100.2L488.7 120.6A379.6 379.6 0 0 0 146.7 361.1Z" fill="#fff68f"/>
</g>
<g fill="#777">
<path d="M501.1 94A406 406 0 0 1 633.5 116.6L631.5 122.2A400 400 0 0 0 501 100Z"/>
<path d="M645.2 120.8A406 406 0 0 1 728.8 164.6L725.4 169.6A400 400 0 0 0 643 126.4Z"/>
<path d="M739.2 172A406 406 0 0 1 852.7 298.8L847.5 301.8A400 400 0 0 0 735.7 176.8Z"/>
<path d="M859.1 310.6A406 406 0 0 1 881.8 361.8L876.1 363.8A400 400 0 0 0 853.8 313.4Z"/>
<path d="M886.2 374.9A406 406 0 0 1 905.4 477.3L899.4 477.7A400 400 0 0 0 880.5 376.7Z"/>
<path d="M905.9 490.1A406 406 0 0 1 900.3 568.1L894.3 567.1A400 400 0 0 0 899.9 490.2Z"/>
<path d="M897.8 580.9A406 406 0 0 1 884.5 630.5L878.8 628.6A400 400 0 0 0 892 579.7Z"/>
<path d="M879.7 643.8A406 406 0 0 1 747.4 821.9L743.8 817.1A400 400 0 0 0 874.1 641.7Z"/>
<path d="M736.1 830.3A406 406 0 0 1 700.5 853L697.6 847.8A400 400 0 0 0 732.6 825.4Z"/>
<path d="M689.7 859A406 406 0 0 1 648.8 877.7L646.6 872.2A400 400 0 0 0 686.9 853.7Z"/>
<path d="M635.5 882.7A406 406 0 0 1 618.4 888.4L616.6 882.6A400 400 0 0 0 633.5 877.1Z"/>
<path d="M605.4 892.1A406 406 0 0 1 262.8 829.5L266.3 824.6A400 400 0 0 0 603.9 886.3Z"/>
<path d="M252.6 821.9A406 406 0 0 1 97.2 550.5L103.1 549.8A400 400 0 0 0 256.2 817.1Z"/>
<path d="M95.7 537.5A406 406 0 0 1 117.6 363.5L123.3 365.5A400 400 0 0 0 101.7 536.9Z"/>
<path d="M122.4 350.8A406 406 0 0 1 488 94.2L488.1 100.2A400 400 0 0 0 128 353Z"/>
</g>
<g fill="none" stroke="#fff" stroke-opacity="0.85" stroke-width="0.75"><circle cx="500" cy="500" r="402.2" stroke-dasharray="0.75 3.2 0.75 1.7 0.75 8.1"/><circle cx="500" cy="500" r="404.4" stroke-dasharray="0.75 1.7 0.75 5.6 0.75 3.2 0.75 9.3"/></g>
<path d="M516.9 100.9L517.6 84.4M533.3 101.9L534.7 85.5M549.8 103.6L551.8 87.2M566.1 106L568.8 89.7M582.3 109.1L585.7 92.9M598.4 112.8L602.5 96.8M614.3 117.2L619 101.4M630 122.3L635.4 106.7M657.5 132.9L664 117.7M672.5 139.7L679.7 124.8M687.3 147.1L695 132.5M701.7 155.2L710 140.9M715.8 163.8L724.7 149.9M748 186.8L758.2 173.8M760.7 197.3L771.5 184.8M773 208.3L784.3 196.3M784.8 219.8L796.6 208.3M796.1 231.9L808.4 220.8M807 244.3L819.6 233.8M817.3 257.2L830.4 247.2M827 270.5L840.5 261.1M836.2 284.2L850.1 275.3M844.9 298.3L859.1 290M860.5 327.8L875.4 320.7M867.3 342.9L882.5 336.4M873.5 358.2L888.9 352.3M884.6 392L900.5 387.6M888.8 408L904.8 404.2M892.2 424.1L908.4 421M895 440.4L911.3 438M897.2 456.8L913.6 455M898.6 473.2L915.1 472.1M899.5 506.1L916 506.3M898.9 522.6L915.3 523.5M897.6 539L914 540.6M895.6 555.4L912 557.7M888 595.1L904 599M883.8 611L899.6 615.6M878.8 626.8L894.5 632M867.7 656.2L882.9 662.7M860.9 671.3L875.8 678.3M853.5 686L868.1 693.7M845.6 700.5L859.8 708.8M837 714.6L850.9 723.5M827.8 728.3L841.4 737.8M818.1 741.7L831.2 751.7M807.8 754.6L820.6 765.1M797.1 767.1L809.3 778.2M785.8 779.2L797.6 790.7M774 790.7L785.3 802.7M761.7 801.8L772.6 814.3M749.1 812.4L759.3 825.3M719.2 834L728.3 847.8M705.2 842.7L713.7 856.9M672.5 860.3L679.6 875.2M657.5 867.2L664 882.3M618.3 881.6L623.2 897.3M588.4 889.6L592 905.7M572.2 892.9L575.2 909.1M555.9 895.6L558.2 911.9M539.5 897.5L541.2 914M523.1 898.8L524 915.3M506.6 899.4L506.8 915.9M490.1 899.4L489.6 915.9M473.6 898.6L472.5 915.1M457.1 897.2L455.3 913.6M440.7 895.1L438.3 911.4M424.5 892.3L421.4 908.5M408.3 888.8L404.5 904.9M392.3 884.7L387.9 900.6M376.5 879.9L371.4 895.6M360.9 874.5L355.2 890M345.6 868.5L339.2 883.7M330.5 861.8L323.5 876.7M315.7 854.4L308.1 869.1M301.2 846.5L293 860.8M287.1 838L278.3 852M273.3 828.9L263.9 842.5M244.2 806.8L233.6 819.5M231.7 796L220.6 808.2M219.7 784.7L208.1 796.4M208.2 772.9L196.1 784.1M197.2 760.6L184.7 771.3M186.7 747.8L173.7 758.1M176.7 734.7L163.3 744.4M167.3 721.1L153.5 730.2M158.4 707.2L144.3 715.7M150.2 692.9L135.7 700.9M142.5 678.3L127.7 685.6M135.4 663.3L120.4 670.1M129 648.1L113.7 654.3M123.2 632.7L107.6 638.2M118 617L102.2 621.8M113.5 601.1L97.5 605.3M109.7 585.1L93.5 588.6M106.5 568.9L90.2 571.7M104 552.5L87.6 554.7M101.1 521.1L84.6 522M100.5 504.6L84 504.8M100.7 488.1L84.2 487.6M101.5 471.6L85.1 470.5M103 455.2L86.6 453.3M105.2 438.8L88.9 436.3M108.1 422.6L91.9 419.4M111.6 406.4L95.6 402.6M115.8 390.5L99.9 385.9M120.7 374.7L105 369.5M134.5 338.6L119.4 332M141.5 323.7L126.7 316.4M149.1 309.1L134.6 301.2M157.2 294.8L143.1 286.3M166 280.8L152.2 271.8M175.3 267.2L161.9 257.6M185.2 254L172.2 243.9M195.6 241.3L183 230.6M206.5 228.9L194.4 217.8M217.9 217.1L206.3 205.4M229.8 205.7L218.7 193.5M242.2 194.8L231.6 182.2M255 184.4L244.9 171.4M268.2 174.6L258.7 161.2M281.8 165.3L272.8 151.5M295.8 156.6L287.4 142.4M310.2 148.5L302.3 134M324.8 141L317.6 126.1M339.8 134L333.1 118.9M355 127.7L349 112.4M370.5 122.1L365.1 106.5M386.1 117.1L381.4 101.3M402 112.7L398 96.7M418.1 109L414.7 92.8M434.3 105.9L431.6 89.7M450.6 103.6L448.5 87.2M467 101.9L465.6 85.4M483.4 100.8L482.7 84.4" stroke="#000" stroke-width="1.55" fill="none"/>
<g font-family="'Liberation Sans', 'DejaVu Sans', sans-serif" font-size="18.2" fill="#111" stroke="#fff" stroke-width="0.32" opacity="0.999">
<text transform="translate(517.7 79.9) rotate(-87.6) scale(0.965 1)" y="5.1" text-anchor="start">100</text>
<text transform="translate(535.1 81) rotate(-85.2) scale(0.965 1)" y="5.1" text-anchor="start">200</text>
<text transform="translate(552.4 82.8) rotate(-82.8) scale(0.965 1)" y="5.1" text-anchor="start">300</text>
<text transform="translate(569.6 85.3) rotate(-80.5) scale(0.965 1)" y="5.1" text-anchor="start">400</text>
<text transform="translate(586.6 88.5) rotate(-78.1) scale(0.965 1)" y="5.1" text-anchor="start">500</text>
<text transform="translate(603.6 92.5) rotate(-75.7) scale(0.965 1)" y="5.1" text-anchor="start">600</text>
<text transform="translate(620.3 97.1) rotate(-73.4) scale(0.965 1)" y="5.1" text-anchor="start">700</text>
<text transform="translate(636.9 102.4) rotate(-71) scale(0.965 1)" y="5.1" text-anchor="start">800</text>
<text transform="translate(665.8 113.6) rotate(-66.8) scale(0.965 1)" y="5.1" text-anchor="start">100</text>
<text transform="translate(681.6 120.7) rotate(-64.4) scale(0.965 1)" y="5.1" text-anchor="start">200</text>
<text transform="translate(697.1 128.6) rotate(-62) scale(0.965 1)" y="5.1" text-anchor="start">300</text>
<text transform="translate(712.3 137) rotate(-59.7) scale(0.965 1)" y="5.1" text-anchor="start">400</text>
<text transform="translate(727.1 146.1) rotate(-57.3) scale(0.965 1)" y="5.1" text-anchor="start">500</text>
<text transform="translate(761 170.3) rotate(-51.6) scale(0.965 1)" y="5.1" text-anchor="start">100</text>
<text transform="translate(774.4 181.4) rotate(-49.3) scale(0.965 1)" y="5.1" text-anchor="start">200</text>
<text transform="translate(787.3 193) rotate(-46.9) scale(0.965 1)" y="5.1" text-anchor="start">300</text>
<text transform="translate(799.8 205.1) rotate(-44.5) scale(0.965 1)" y="5.1" text-anchor="start">400</text>
<text transform="translate(811.7 217.8) rotate(-42.2) scale(0.965 1)" y="5.1" text-anchor="start">500</text>
<text transform="translate(823.1 230.9) rotate(-39.8) scale(0.965 1)" y="5.1" text-anchor="start">600</text>
<text transform="translate(833.9 244.5) rotate(-37.4) scale(0.965 1)" y="5.1" text-anchor="start">700</text>
<text transform="translate(844.2 258.5) rotate(-35.1) scale(0.965 1)" y="5.1" text-anchor="start">800</text>
<text transform="translate(853.9 272.9) rotate(-32.7) scale(0.965 1)" y="5.1" text-anchor="start">900</text>
<text transform="translate(863 287.7) rotate(-30.3) scale(0.965 1)" y="5.1" text-anchor="start">1000</text>
<text transform="translate(879.4 318.8) rotate(-25.5) scale(0.965 1)" y="5.1" text-anchor="start">100</text>
<text transform="translate(886.6 334.6) rotate(-23.2) scale(0.965 1)" y="5.1" text-anchor="start">200</text>
<text transform="translate(893.1 350.7) rotate(-20.8) scale(0.965 1)" y="5.1" text-anchor="start">300</text>
<text transform="translate(904.8 386.3) rotate(-15.7) scale(0.965 1)" y="5.1" text-anchor="start">100</text>
<text transform="translate(909.2 403.2) rotate(-13.3) scale(0.965 1)" y="5.1" text-anchor="start">200</text>
<text transform="translate(912.8 420.2) rotate(-10.9) scale(0.965 1)" y="5.1" text-anchor="start">300</text>
<text transform="translate(915.8 437.3) rotate(-8.6) scale(0.965 1)" y="5.1" text-anchor="start">400</text>
<text transform="translate(918 454.5) rotate(-6.2) scale(0.965 1)" y="5.1" text-anchor="start">500</text>
<text transform="translate(919.6 471.8) rotate(-3.8) scale(0.965 1)" y="5.1" text-anchor="start">600</text>
<text transform="translate(920.5 506.4) rotate(0.9) scale(0.965 1)" y="5.1" text-anchor="start">100</text>
<text transform="translate(919.8 523.7) rotate(3.2) scale(0.965 1)" y="5.1" text-anchor="start">200</text>
<text transform="translate(918.5 541.1) rotate(5.6) scale(0.965 1)" y="5.1" text-anchor="start">300</text>
<text transform="translate(916.4 558.3) rotate(8) scale(0.965 1)" y="5.1" text-anchor="start">400</text>
<text transform="translate(908.4 600.1) rotate(13.8) scale(0.965 1)" y="5.1" text-anchor="start">100</text>
<text transform="translate(903.9 616.9) rotate(16.1) scale(0.965 1)" y="5.1" text-anchor="start">200</text>
<text transform="translate(898.8 633.5) rotate(18.5) scale(0.965 1)" y="5.1" text-anchor="start">300</text>
<text transform="translate(887 664.4) rotate(23) scale(0.965 1)" y="5.1" text-anchor="start">100</text>
<text transform="translate(879.9 680.3) rotate(25.4) scale(0.965 1)" y="5.1" text-anchor="start">200</text>
<text transform="translate(872.1 695.8) rotate(27.8) scale(0.965 1)" y="5.1" text-anchor="start">300</text>
<text transform="translate(863.7 711) rotate(30.1) scale(0.965 1)" y="5.1" text-anchor="start">400</text>
<text transform="translate(854.7 725.9) rotate(32.5) scale(0.965 1)" y="5.1" text-anchor="start">500</text>
<text transform="translate(845.1 740.3) rotate(34.9) scale(0.965 1)" y="5.1" text-anchor="start">600</text>
<text transform="translate(834.8 754.4) rotate(37.2) scale(0.965 1)" y="5.1" text-anchor="start">700</text>
<text transform="translate(824 768) rotate(39.6) scale(0.965 1)" y="5.1" text-anchor="start">800</text>
<text transform="translate(812.7 781.2) rotate(42) scale(0.965 1)" y="5.1" text-anchor="start">900</text>
<text transform="translate(800.8 793.8) rotate(44.3) scale(0.965 1)" y="5.1" text-anchor="start">1000</text>
<text transform="translate(788.4 806) rotate(46.7) scale(0.965 1)" y="5.1" text-anchor="start">1100</text>
<text transform="translate(775.5 817.7) rotate(49.1) scale(0.965 1)" y="5.1" text-anchor="start">1200</text>
<text transform="translate(762.1 828.8) rotate(51.4) scale(0.965 1)" y="5.1" text-anchor="start">1300</text>
<text transform="translate(730.8 851.5) rotate(56.7) scale(0.965 1)" y="5.1" text-anchor="start">100</text>
<text transform="translate(716 860.8) rotate(59.1) scale(0.965 1)" y="5.1" text-anchor="start">200</text>
<text transform="translate(681.6 879.3) rotate(64.4) scale(0.965 1)" y="5.1" text-anchor="start">100</text>
<text transform="translate(665.7 886.5) rotate(66.8) scale(0.965 1)" y="5.1" text-anchor="start">200</text>
<text transform="translate(624.6 901.6) rotate(72.8) scale(0.965 1)" y="5.1" text-anchor="start">100</text>
<text transform="translate(593 910.1) rotate(77.2) scale(0.965 1)" y="5.1" text-anchor="start">100</text>
<text transform="translate(576 913.6) rotate(79.6) scale(0.965 1)" y="5.1" text-anchor="start">200</text>
<text transform="translate(558.9 916.4) rotate(82) scale(0.965 1)" y="5.1" text-anchor="start">300</text>
<text transform="translate(541.6 918.4) rotate(84.3) scale(0.965 1)" y="5.1" text-anchor="start">400</text>
<text transform="translate(524.3 919.8) rotate(86.7) scale(0.965 1)" y="5.1" text-anchor="start">500</text>
<text transform="translate(506.9 920.4) rotate(89.1) scale(0.965 1)" y="5.1" text-anchor="start">600</text>
<text transform="translate(489.5 920.4) rotate(271.4) scale(0.965 1)" y="5.1" text-anchor="end">700</text>
<text transform="translate(472.2 919.6) rotate(273.8) scale(0.965 1)" y="5.1" text-anchor="end">800</text>
<text transform="translate(454.9 918.1) rotate(276.2) scale(0.965 1)" y="5.1" text-anchor="end">900</text>
<text transform="translate(437.6 915.8) rotate(278.5) scale(0.965 1)" y="5.1" text-anchor="end">1000</text>
<text transform="translate(420.5 912.9) rotate(280.9) scale(0.965 1)" y="5.1" text-anchor="end">1100</text>
<text transform="translate(403.5 909.3) rotate(283.3) scale(0.965 1)" y="5.1" text-anchor="end">1200</text>
<text transform="translate(386.7 904.9) rotate(285.6) scale(0.965 1)" y="5.1" text-anchor="end">1300</text>
<text transform="translate(370 899.9) rotate(288) scale(0.965 1)" y="5.1" text-anchor="end">1400</text>
<text transform="translate(353.6 894.2) rotate(290.4) scale(0.965 1)" y="5.1" text-anchor="end">1500</text>
<text transform="translate(337.5 887.8) rotate(292.7) scale(0.965 1)" y="5.1" text-anchor="end">1600</text>
<text transform="translate(321.6 880.8) rotate(295.1) scale(0.965 1)" y="5.1" text-anchor="end">1700</text>
<text transform="translate(306 873.1) rotate(297.5) scale(0.965 1)" y="5.1" text-anchor="end">1800</text>
<text transform="translate(290.8 864.7) rotate(299.8) scale(0.965 1)" y="5.1" text-anchor="end">1900</text>
<text transform="translate(275.9 855.8) rotate(302.2) scale(0.965 1)" y="5.1" text-anchor="end">2000</text>
<text transform="translate(261.4 846.2) rotate(304.6) scale(0.965 1)" y="5.1" text-anchor="end">2100</text>
<text transform="translate(230.7 823) rotate(309.8) scale(0.965 1)" y="5.1" text-anchor="end">100</text>
<text transform="translate(217.6 811.6) rotate(312.2) scale(0.965 1)" y="5.1" text-anchor="end">200</text>
<text transform="translate(205 799.6) rotate(314.6) scale(0.965 1)" y="5.1" text-anchor="end">300</text>
<text transform="translate(192.9 787.2) rotate(316.9) scale(0.965 1)" y="5.1" text-anchor="end">400</text>
<text transform="translate(181.3 774.3) rotate(319.3) scale(0.965 1)" y="5.1" text-anchor="end">500</text>
<text transform="translate(170.2 760.9) rotate(321.7) scale(0.965 1)" y="5.1" text-anchor="end">600</text>
<text transform="translate(159.7 747) rotate(324) scale(0.965 1)" y="5.1" text-anchor="end">700</text>
<text transform="translate(149.8 732.7) rotate(326.4) scale(0.965 1)" y="5.1" text-anchor="end">800</text>
<text transform="translate(140.5 718.1) rotate(328.8) scale(0.965 1)" y="5.1" text-anchor="end">900</text>
<text transform="translate(131.8 703) rotate(331.1) scale(0.965 1)" y="5.1" text-anchor="end">1000</text>
<text transform="translate(123.7 687.6) rotate(333.5) scale(0.965 1)" y="5.1" text-anchor="end">1100</text>
<text transform="translate(116.3 671.9) rotate(335.9) scale(0.965 1)" y="5.1" text-anchor="end">1200</text>
<text transform="translate(109.5 655.9) rotate(338.2) scale(0.965 1)" y="5.1" text-anchor="end">1300</text>
<text transform="translate(103.4 639.7) rotate(340.6) scale(0.965 1)" y="5.1" text-anchor="end">1400</text>
<text transform="translate(97.9 623.2) rotate(343) scale(0.965 1)" y="5.1" text-anchor="end">1500</text>
<text transform="translate(93.2 606.4) rotate(345.3) scale(0.965 1)" y="5.1" text-anchor="end">1600</text>
<text transform="translate(89.1 589.5) rotate(347.7) scale(0.965 1)" y="5.1" text-anchor="end">1700</text>
<text transform="translate(85.8 572.5) rotate(350.1) scale(0.965 1)" y="5.1" text-anchor="end">1800</text>
<text transform="translate(83.2 555.3) rotate(352.4) scale(0.965 1)" y="5.1" text-anchor="end">1900</text>
<text transform="translate(80.1 522.2) rotate(357) scale(0.965 1)" y="5.1" text-anchor="end">100</text>
<text transform="translate(79.5 504.9) rotate(359.3) scale(0.965 1)" y="5.1" text-anchor="end">200</text>
<text transform="translate(79.7 487.5) rotate(361.7) scale(0.965 1)" y="5.1" text-anchor="end">300</text>
<text transform="translate(80.6 470.1) rotate(364.1) scale(0.965 1)" y="5.1" text-anchor="end">400</text>
<text transform="translate(82.2 452.8) rotate(366.4) scale(0.965 1)" y="5.1" text-anchor="end">500</text>
<text transform="translate(84.5 435.6) rotate(368.8) scale(0.965 1)" y="5.1" text-anchor="end">600</text>
<text transform="translate(87.5 418.5) rotate(371.2) scale(0.965 1)" y="5.1" text-anchor="end">700</text>
<text transform="translate(91.2 401.5) rotate(373.5) scale(0.965 1)" y="5.1" text-anchor="end">800</text>
<text transform="translate(95.6 384.7) rotate(375.9) scale(0.965 1)" y="5.1" text-anchor="end">900</text>
<text transform="translate(100.7 368.1) rotate(378.3) scale(0.965 1)" y="5.1" text-anchor="end">1000</text>
<text transform="translate(115.3 330.2) rotate(383.8) scale(0.965 1)" y="5.1" text-anchor="end">100</text>
<text transform="translate(122.7 314.4) rotate(386.2) scale(0.965 1)" y="5.1" text-anchor="end">200</text>
<text transform="translate(130.6 299) rotate(388.5) scale(0.965 1)" y="5.1" text-anchor="end">300</text>
<text transform="translate(139.2 284) rotate(390.9) scale(0.965 1)" y="5.1" text-anchor="end">400</text>
<text transform="translate(148.4 269.3) rotate(393.3) scale(0.965 1)" y="5.1" text-anchor="end">500</text>
<text transform="translate(158.2 255) rotate(395.6) scale(0.965 1)" y="5.1" text-anchor="end">600</text>
<text transform="translate(168.6 241.1) rotate(398) scale(0.965 1)" y="5.1" text-anchor="end">700</text>
<text transform="translate(179.6 227.7) rotate(400.4) scale(0.965 1)" y="5.1" text-anchor="end">800</text>
<text transform="translate(191.1 214.7) rotate(402.7) scale(0.965 1)" y="5.1" text-anchor="end">900</text>
<text transform="translate(203.1 202.2) rotate(405.1) scale(0.965 1)" y="5.1" text-anchor="end">1000</text>
<text transform="translate(215.6 190.2) rotate(407.5) scale(0.965 1)" y="5.1" text-anchor="end">1100</text>
<text transform="translate(228.7 178.8) rotate(409.8) scale(0.965 1)" y="5.1" text-anchor="end">1200</text>
<text transform="translate(242.1 167.8) rotate(412.2) scale(0.965 1)" y="5.1" text-anchor="end">1300</text>
<text transform="translate(256 157.5) rotate(414.5) scale(0.965 1)" y="5.1" text-anchor="end">1400</text>
<text transform="translate(270.4 147.7) rotate(416.9) scale(0.965 1)" y="5.1" text-anchor="end">1500</text>
<text transform="translate(285.1 138.6) rotate(419.3) scale(0.965 1)" y="5.1" text-anchor="end">1600</text>
<text transform="translate(300.2 130) rotate(421.6) scale(0.965 1)" y="5.1" text-anchor="end">1700</text>
<text transform="translate(315.6 122.1) rotate(424) scale(0.965 1)" y="5.1" text-anchor="end">1800</text>
<text transform="translate(331.3 114.8) rotate(426.4) scale(0.965 1)" y="5.1" text-anchor="end">1900</text>
<text transform="translate(347.4 108.2) rotate(428.7) scale(0.965 1)" y="5.1" text-anchor="end">2000</text>
<text transform="translate(363.6 102.2) rotate(431.1) scale(0.965 1)" y="5.1" text-anchor="end">2100</text>
<text transform="translate(380.2 96.9) rotate(433.4) scale(0.965 1)" y="5.1" text-anchor="end">2200</text>
<text transform="translate(396.9 92.3) rotate(435.8) scale(0.965 1)" y="5.1" text-anchor="end">2300</text>
<text transform="translate(413.8 88.4) rotate(438.2) scale(0.965 1)" y="5.1" text-anchor="end">2400</text>
<text transform="translate(430.8 85.2) rotate(440.5) scale(0.965 1)" y="5.1" text-anchor="end">2500</text>
<text transform="translate(448 82.7) rotate(442.9) scale(0.965 1)" y="5.1" text-anchor="end">2600</text>
<text transform="translate(465.2 80.9) rotate(445.3) scale(0.965 1)" y="5.1" text-anchor="end">2700</text>
<text transform="translate(482.5 79.9) rotate(447.6) scale(0.965 1)" y="5.1" text-anchor="end">2800</text>
</g>
<defs>
<path id="n0" d="M542.7 41A461 461 0 0 1 611 52.6"/>
<path id="n1" d="M661.1 68.1A461 461 0 0 1 762.4 120.9"/>
<path id="n2" d="M809 159.5A459.8 459.8 0 0 1 872.3 230.2"/>
<path id="n3" d="M890.7 262.9A457 457 0 0 1 938.1 369.8"/>
<path id="n4" d="M939 369.5A458 458 0 0 1 956.5 462.5"/>
<path id="n5" d="M955.5 590.1A464.3 464.3 0 0 0 963.6 475.4"/>
<path id="n6" d="M931 675.8A465.5 465.5 0 0 0 961 564.5"/>
<path id="n7" d="M843.3 814.3A465.5 465.5 0 0 0 900.6 737.1"/>
<path id="n8" d="M700.5 920.1A465.5 465.5 0 0 0 797.6 858"/>
<path id="n9" d="M640.9 943.7A465.5 465.5 0 0 0 745.5 895.5"/>
<path id="n10" d="M590.1 956.7A465.5 465.5 0 0 0 699.6 920.6"/>
<path id="n11" d="M369.3 946.8A465.5 465.5 0 0 0 465.1 964.2"/>
<path id="n12" d="M70.7 679.9A465.5 465.5 0 0 0 128 779.9"/>
<path id="n13" d="M39 499.9A461 461 0 0 1 53.2 386.6"/>
<path id="n14" d="M190.2 158.7A461 461 0 0 1 283.5 93"/>
</defs>
<g font-family="'Liberation Sans', 'DejaVu Sans', sans-serif" font-size="10.4" fill="#3c3c3c" stroke="#fff" stroke-width="0.15" opacity="0.999">
<text><textPath href="#n0" textLength="69.3" lengthAdjust="spacingAndGlyphs">PRFC01000010</textPath></text>
<text><textPath href="#n1" textLength="114.5" lengthAdjust="spacingAndGlyphs">TcDm25_Chr18_H2_c3</textPath></text>
<text><textPath href="#n2" textLength="95.1" lengthAdjust="spacingAndGlyphs">TcDm25_Chr18_H1</textPath></text>
<text><textPath href="#n3" textLength="117.2" lengthAdjust="spacingAndGlyphs">TcDm25_Chr18_H2_c1</textPath></text>
<text><textPath href="#n4" textLength="94.7" lengthAdjust="spacingAndGlyphs">TcDm25_Chr27_H1</textPath></text>
<text><textPath href="#n5" textLength="115.2" lengthAdjust="spacingAndGlyphs">TcDm25_Chr27_H2_c1</textPath></text>
<text><textPath href="#n6" textLength="115.5" lengthAdjust="spacingAndGlyphs">TcDm25_Chr21_H2_c1</textPath></text>
<text><textPath href="#n7" textLength="96.3" lengthAdjust="spacingAndGlyphs">TcDm25_Chr09_H1</textPath></text>
<text><textPath href="#n8" textLength="115.5" lengthAdjust="spacingAndGlyphs">TcDm25_Chr19_H2_c3</textPath></text>
<text><textPath href="#n9" textLength="115.5" lengthAdjust="spacingAndGlyphs">TcDm25_Chr09_H2_c2</textPath></text>
<text><textPath href="#n10" textLength="115.5" lengthAdjust="spacingAndGlyphs">TcDm25_Chr09_H2_c1</textPath></text>
<text><textPath href="#n11" textLength="97.5" lengthAdjust="spacingAndGlyphs">TcDm25_Chr02_H1</textPath></text>
<text><textPath href="#n12" textLength="115.5" lengthAdjust="spacingAndGlyphs">TcDm25_Chr02_H2_c1</textPath></text>
<text><textPath href="#n13" textLength="114.4" lengthAdjust="spacingAndGlyphs">TcDm25_Chr11_H1_c1</textPath></text>
<text><textPath href="#n14" textLength="114.4" lengthAdjust="spacingAndGlyphs">TcDm25_Chr04_H1_c1</textPath></text>
</g>
</svg>
</body></html>
